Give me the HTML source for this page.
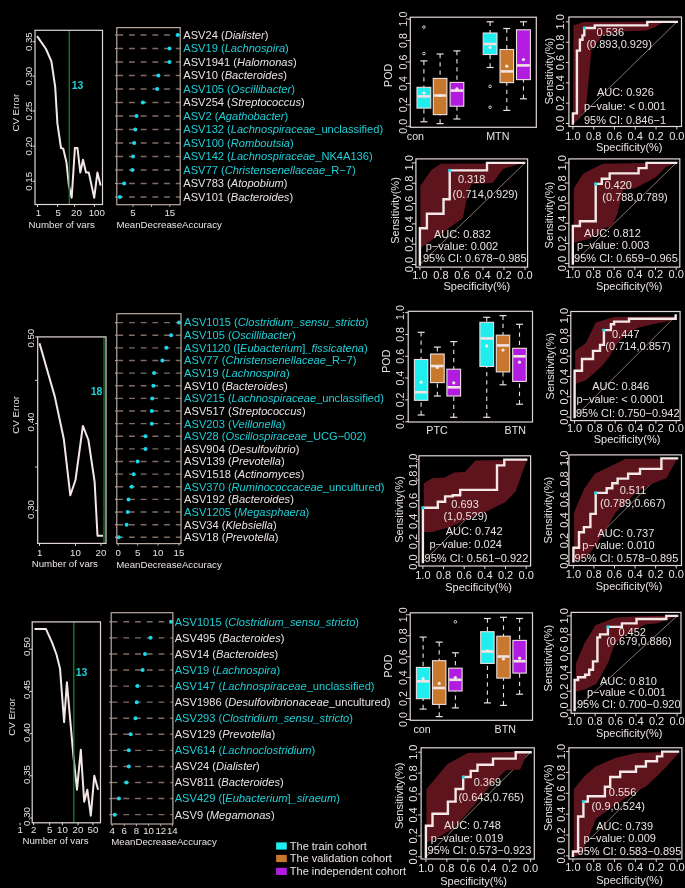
<!DOCTYPE html>
<html><head><meta charset="utf-8"><title>Figure</title>
<style>
html,body{margin:0;padding:0;background:#000;width:685px;height:888px;overflow:hidden;}
svg{display:block;font-family:"Liberation Sans",sans-serif;will-change:transform;}
</style></head>
<body>
<svg width="685" height="888" viewBox="0 0 685 888">
<rect x="0" y="0" width="685" height="888" fill="#000"/>
<line x1="572.9" y1="123.5" x2="676.8" y2="21.9" stroke="#8a7468" stroke-width="1"/>
<polygon points="573,123.5 573.5,25.3 583.8,22 677,21.5 662,23 655,27 647,30.5 620,31.5 603,35 591.5,50 586,108 575.5,122" fill="#5e141c" stroke="none" stroke-width="1"/>
<polyline points="572.9,123.5 572.9,113.4 576.9,113.4 576.9,50.6 579.9,50.6 579.9,39.8 582.5,39.8 582.5,35.4 584.3,35.4 584.3,28 594.8,28 594.8,25.4 647.3,25.4 647.3,21.9 676.8,21.9" fill="none" stroke="#f3e7e7" stroke-width="2.4" stroke-linejoin="miter" stroke-linecap="square"/>
<circle cx="584.3" cy="28" r="1.6" fill="#16d9ec"/>
<rect x="568.9" y="17" width="112.6" height="109.5" fill="none" stroke="#e2d6d6" stroke-width="1.2"/>
<line x1="568.9" y1="123.5" x2="565.9" y2="123.5" stroke="#e2d6d6" stroke-width="1"/>
<line x1="572.9" y1="126.5" x2="572.9" y2="129.5" stroke="#e2d6d6" stroke-width="1"/>
<line x1="568.9" y1="103.18" x2="565.9" y2="103.18" stroke="#e2d6d6" stroke-width="1"/>
<line x1="593.68" y1="126.5" x2="593.68" y2="129.5" stroke="#e2d6d6" stroke-width="1"/>
<line x1="568.9" y1="82.86" x2="565.9" y2="82.86" stroke="#e2d6d6" stroke-width="1"/>
<line x1="614.46" y1="126.5" x2="614.46" y2="129.5" stroke="#e2d6d6" stroke-width="1"/>
<line x1="568.9" y1="62.54" x2="565.9" y2="62.54" stroke="#e2d6d6" stroke-width="1"/>
<line x1="635.24" y1="126.5" x2="635.24" y2="129.5" stroke="#e2d6d6" stroke-width="1"/>
<line x1="568.9" y1="42.22" x2="565.9" y2="42.22" stroke="#e2d6d6" stroke-width="1"/>
<line x1="656.02" y1="126.5" x2="656.02" y2="129.5" stroke="#e2d6d6" stroke-width="1"/>
<line x1="568.9" y1="21.9" x2="565.9" y2="21.9" stroke="#e2d6d6" stroke-width="1"/>
<line x1="676.8" y1="126.5" x2="676.8" y2="129.5" stroke="#e2d6d6" stroke-width="1"/>
<text transform="translate(560.3,123.5) rotate(-90)" x="0" y="3.85" font-size="11" fill="#e9e1e1" text-anchor="middle">0.0</text>
<text transform="translate(560.3,103.18) rotate(-90)" x="0" y="3.85" font-size="11" fill="#e9e1e1" text-anchor="middle">0.2</text>
<text transform="translate(560.3,82.86) rotate(-90)" x="0" y="3.85" font-size="11" fill="#e9e1e1" text-anchor="middle">0.4</text>
<text transform="translate(560.3,62.54) rotate(-90)" x="0" y="3.85" font-size="11" fill="#e9e1e1" text-anchor="middle">0.6</text>
<text transform="translate(560.3,42.22) rotate(-90)" x="0" y="3.85" font-size="11" fill="#e9e1e1" text-anchor="middle">0.8</text>
<text transform="translate(560.3,21.9) rotate(-90)" x="0" y="3.85" font-size="11" fill="#e9e1e1" text-anchor="middle">1.0</text>
<text x="572.9" y="140.05" font-size="11" fill="#e9e1e1" text-anchor="middle">1.0</text>
<text x="593.68" y="140.05" font-size="11" fill="#e9e1e1" text-anchor="middle">0.8</text>
<text x="614.46" y="140.05" font-size="11" fill="#e9e1e1" text-anchor="middle">0.6</text>
<text x="635.24" y="140.05" font-size="11" fill="#e9e1e1" text-anchor="middle">0.4</text>
<text x="656.02" y="140.05" font-size="11" fill="#e9e1e1" text-anchor="middle">0.2</text>
<text x="676.8" y="140.05" font-size="11" fill="#e9e1e1" text-anchor="middle">0.0</text>
<text x="629.2" y="151.45" font-size="11" fill="#e9e1e1" text-anchor="middle">Specificity(%)</text>
<text transform="translate(548.8,71.2) rotate(-90)" x="0" y="3.85" font-size="11" fill="#e9e1e1" text-anchor="middle">Sensitivity(%)</text>
<text x="596.5" y="36.25" font-size="11" fill="#e9e1e1" text-anchor="start">0.536</text>
<text x="586.4" y="48.35" font-size="11" fill="#e9e1e1" text-anchor="start">(0.893,0.929)</text>
<text x="596.9" y="95.85" font-size="11" fill="#e9e1e1" text-anchor="start">AUC: 0.926</text>
<text x="583.9" y="110.25" font-size="11" fill="#e9e1e1" text-anchor="start">p−value: &lt; 0.001</text>
<text x="583.9" y="123.85" font-size="11" fill="#e9e1e1" text-anchor="start">95% CI: 0.846−1</text>
<line x1="419.9" y1="264.5" x2="525" y2="162.9" stroke="#8a7468" stroke-width="1"/>
<polygon points="420.4,247.9 420.4,185.7 431.3,169.9 440.9,163.8 509.2,163.4 524.1,162.4 503.1,169 492.6,183 471.6,183.9 468,192.7 462.8,218.1 459.3,220.7 420.8,247.9" fill="#5e141c" stroke="none" stroke-width="1"/>
<polyline points="419.9,264.5 419.9,228.2 426.9,228.2 426.9,213.7 443.5,213.7 443.5,199.3 449.7,199.3 449.7,170.4 487,170.4 487,162.9 524.1,162.9" fill="none" stroke="#f3e7e7" stroke-width="2.4" stroke-linejoin="miter" stroke-linecap="square"/>
<circle cx="449.7" cy="170.4" r="1.6" fill="#16d9ec"/>
<rect x="415.9" y="158.9" width="111.7" height="108.2" fill="none" stroke="#e2d6d6" stroke-width="1.2"/>
<line x1="415.9" y1="264.5" x2="412.9" y2="264.5" stroke="#e2d6d6" stroke-width="1"/>
<line x1="419.9" y1="267.1" x2="419.9" y2="270.1" stroke="#e2d6d6" stroke-width="1"/>
<line x1="415.9" y1="244.18" x2="412.9" y2="244.18" stroke="#e2d6d6" stroke-width="1"/>
<line x1="440.92" y1="267.1" x2="440.92" y2="270.1" stroke="#e2d6d6" stroke-width="1"/>
<line x1="415.9" y1="223.86" x2="412.9" y2="223.86" stroke="#e2d6d6" stroke-width="1"/>
<line x1="461.94" y1="267.1" x2="461.94" y2="270.1" stroke="#e2d6d6" stroke-width="1"/>
<line x1="415.9" y1="203.54" x2="412.9" y2="203.54" stroke="#e2d6d6" stroke-width="1"/>
<line x1="482.96" y1="267.1" x2="482.96" y2="270.1" stroke="#e2d6d6" stroke-width="1"/>
<line x1="415.9" y1="183.22" x2="412.9" y2="183.22" stroke="#e2d6d6" stroke-width="1"/>
<line x1="503.98" y1="267.1" x2="503.98" y2="270.1" stroke="#e2d6d6" stroke-width="1"/>
<line x1="415.9" y1="162.9" x2="412.9" y2="162.9" stroke="#e2d6d6" stroke-width="1"/>
<line x1="525" y1="267.1" x2="525" y2="270.1" stroke="#e2d6d6" stroke-width="1"/>
<text transform="translate(409,264.5) rotate(-90)" x="0" y="3.85" font-size="11" fill="#e9e1e1" text-anchor="middle">0.0</text>
<text transform="translate(409,244.18) rotate(-90)" x="0" y="3.85" font-size="11" fill="#e9e1e1" text-anchor="middle">0.2</text>
<text transform="translate(409,223.86) rotate(-90)" x="0" y="3.85" font-size="11" fill="#e9e1e1" text-anchor="middle">0.4</text>
<text transform="translate(409,203.54) rotate(-90)" x="0" y="3.85" font-size="11" fill="#e9e1e1" text-anchor="middle">0.6</text>
<text transform="translate(409,183.22) rotate(-90)" x="0" y="3.85" font-size="11" fill="#e9e1e1" text-anchor="middle">0.8</text>
<text transform="translate(409,162.9) rotate(-90)" x="0" y="3.85" font-size="11" fill="#e9e1e1" text-anchor="middle">1.0</text>
<text x="419.9" y="278.55" font-size="11" fill="#e9e1e1" text-anchor="middle">1.0</text>
<text x="440.92" y="278.55" font-size="11" fill="#e9e1e1" text-anchor="middle">0.8</text>
<text x="461.94" y="278.55" font-size="11" fill="#e9e1e1" text-anchor="middle">0.6</text>
<text x="482.96" y="278.55" font-size="11" fill="#e9e1e1" text-anchor="middle">0.4</text>
<text x="503.98" y="278.55" font-size="11" fill="#e9e1e1" text-anchor="middle">0.2</text>
<text x="525" y="278.55" font-size="11" fill="#e9e1e1" text-anchor="middle">0.0</text>
<text x="476.8" y="289.65" font-size="11" fill="#e9e1e1" text-anchor="middle">Specificity(%)</text>
<text transform="translate(395.2,210.5) rotate(-90)" x="0" y="3.85" font-size="11" fill="#e9e1e1" text-anchor="middle">Sensitivity(%)</text>
<text x="457.9" y="183.35" font-size="11" fill="#e9e1e1" text-anchor="start">0.318</text>
<text x="452.6" y="198.25" font-size="11" fill="#e9e1e1" text-anchor="start">(0.714,0.929)</text>
<text x="433.9" y="237.65" font-size="11" fill="#e9e1e1" text-anchor="start">AUC: 0.832</text>
<text x="425.7" y="250.35" font-size="11" fill="#e9e1e1" text-anchor="start">p−value: 0.002</text>
<text x="422.9" y="262.25" font-size="11" fill="#e9e1e1" text-anchor="start">95% CI: 0.678−0.985</text>
<line x1="572.8" y1="263.6" x2="676.2" y2="162.9" stroke="#8a7468" stroke-width="1"/>
<polygon points="573.8,242.6 573.8,188.3 583.4,173.4 602.7,163.8 647.3,162.9 677.1,162.4 665.7,167.3 655.2,177.8 635.1,188.3 623,190 617.6,213 612.6,225.8 604.3,227.9 589.5,239.1 573.8,242.6" fill="#5e141c" stroke="none" stroke-width="1"/>
<polyline points="572.8,263.6 572.8,226 579.9,226 579.9,221.2 595.7,221.2 595.7,183.9 601.8,183.9 601.8,178.7 609.7,178.7 609.7,173.4 638.6,173.4 638.6,168.1 646.5,168.1 646.5,162.9 676.2,162.9" fill="none" stroke="#f3e7e7" stroke-width="2.4" stroke-linejoin="miter" stroke-linecap="square"/>
<circle cx="595.7" cy="183.9" r="1.6" fill="#16d9ec"/>
<rect x="568.9" y="158.9" width="110.9" height="108.2" fill="none" stroke="#e2d6d6" stroke-width="1.2"/>
<line x1="568.9" y1="263.6" x2="565.9" y2="263.6" stroke="#e2d6d6" stroke-width="1"/>
<line x1="572.8" y1="267.1" x2="572.8" y2="270.1" stroke="#e2d6d6" stroke-width="1"/>
<line x1="568.9" y1="243.46" x2="565.9" y2="243.46" stroke="#e2d6d6" stroke-width="1"/>
<line x1="593.48" y1="267.1" x2="593.48" y2="270.1" stroke="#e2d6d6" stroke-width="1"/>
<line x1="568.9" y1="223.32" x2="565.9" y2="223.32" stroke="#e2d6d6" stroke-width="1"/>
<line x1="614.16" y1="267.1" x2="614.16" y2="270.1" stroke="#e2d6d6" stroke-width="1"/>
<line x1="568.9" y1="203.18" x2="565.9" y2="203.18" stroke="#e2d6d6" stroke-width="1"/>
<line x1="634.84" y1="267.1" x2="634.84" y2="270.1" stroke="#e2d6d6" stroke-width="1"/>
<line x1="568.9" y1="183.04" x2="565.9" y2="183.04" stroke="#e2d6d6" stroke-width="1"/>
<line x1="655.52" y1="267.1" x2="655.52" y2="270.1" stroke="#e2d6d6" stroke-width="1"/>
<line x1="568.9" y1="162.9" x2="565.9" y2="162.9" stroke="#e2d6d6" stroke-width="1"/>
<line x1="676.2" y1="267.1" x2="676.2" y2="270.1" stroke="#e2d6d6" stroke-width="1"/>
<text transform="translate(562.3,263.6) rotate(-90)" x="0" y="3.85" font-size="11" fill="#e9e1e1" text-anchor="middle">0.0</text>
<text transform="translate(562.3,243.46) rotate(-90)" x="0" y="3.85" font-size="11" fill="#e9e1e1" text-anchor="middle">0.2</text>
<text transform="translate(562.3,223.32) rotate(-90)" x="0" y="3.85" font-size="11" fill="#e9e1e1" text-anchor="middle">0.4</text>
<text transform="translate(562.3,203.18) rotate(-90)" x="0" y="3.85" font-size="11" fill="#e9e1e1" text-anchor="middle">0.6</text>
<text transform="translate(562.3,183.04) rotate(-90)" x="0" y="3.85" font-size="11" fill="#e9e1e1" text-anchor="middle">0.8</text>
<text transform="translate(562.3,162.9) rotate(-90)" x="0" y="3.85" font-size="11" fill="#e9e1e1" text-anchor="middle">1.0</text>
<text x="572.8" y="277.65" font-size="11" fill="#e9e1e1" text-anchor="middle">1.0</text>
<text x="593.48" y="277.65" font-size="11" fill="#e9e1e1" text-anchor="middle">0.8</text>
<text x="614.16" y="277.65" font-size="11" fill="#e9e1e1" text-anchor="middle">0.6</text>
<text x="634.84" y="277.65" font-size="11" fill="#e9e1e1" text-anchor="middle">0.4</text>
<text x="655.52" y="277.65" font-size="11" fill="#e9e1e1" text-anchor="middle">0.2</text>
<text x="676.2" y="277.65" font-size="11" fill="#e9e1e1" text-anchor="middle">0.0</text>
<text x="629.2" y="290.35" font-size="11" fill="#e9e1e1" text-anchor="middle">Specificity(%)</text>
<text transform="translate(549.1,215.1) rotate(-90)" x="0" y="3.85" font-size="11" fill="#e9e1e1" text-anchor="middle">Sensitivity(%)</text>
<text x="604.4" y="188.95" font-size="11" fill="#e9e1e1" text-anchor="start">0.420</text>
<text x="602.3" y="200.85" font-size="11" fill="#e9e1e1" text-anchor="start">(0.788,0.789)</text>
<text x="583.9" y="236.85" font-size="11" fill="#e9e1e1" text-anchor="start">AUC: 0.812</text>
<text x="576.9" y="249.05" font-size="11" fill="#e9e1e1" text-anchor="start">p−value: 0.003</text>
<text x="574.1" y="262.25" font-size="11" fill="#e9e1e1" text-anchor="start">95% CI: 0.659−0.965</text>
<line x1="574.6" y1="417.1" x2="676.2" y2="315.5" stroke="#8a7468" stroke-width="1"/>
<polygon points="575.2,384.7 575.2,350.9 586,342.7 595.7,322.5 614.1,316.9 675.4,316.4 670.1,320.8 652.6,324.3 638.6,327.8 628.1,332.2 617.6,342.7 608.8,357.6 601.8,366.3 586,380.3 575.5,383.8" fill="#5e141c" stroke="none" stroke-width="1"/>
<polyline points="574.6,417.1 574.6,370.7 582,370.7 582,359 593,359 593,350.9 600,350.9 600,344.9 603.9,344.9 603.9,330.1 610.9,330.1 610.9,324.3 614.1,324.3 614.1,321.6 629,321.6 629,318.7 675.7,318.7 675.7,315.5" fill="none" stroke="#f3e7e7" stroke-width="2.4" stroke-linejoin="miter" stroke-linecap="square"/>
<circle cx="603.9" cy="330.1" r="1.6" fill="#16d9ec"/>
<rect x="570.8" y="311.5" width="109.3" height="109.1" fill="none" stroke="#e2d6d6" stroke-width="1.2"/>
<line x1="570.8" y1="417.1" x2="567.8" y2="417.1" stroke="#e2d6d6" stroke-width="1"/>
<line x1="574.6" y1="420.6" x2="574.6" y2="423.6" stroke="#e2d6d6" stroke-width="1"/>
<line x1="570.8" y1="396.78" x2="567.8" y2="396.78" stroke="#e2d6d6" stroke-width="1"/>
<line x1="594.92" y1="420.6" x2="594.92" y2="423.6" stroke="#e2d6d6" stroke-width="1"/>
<line x1="570.8" y1="376.46" x2="567.8" y2="376.46" stroke="#e2d6d6" stroke-width="1"/>
<line x1="615.24" y1="420.6" x2="615.24" y2="423.6" stroke="#e2d6d6" stroke-width="1"/>
<line x1="570.8" y1="356.14" x2="567.8" y2="356.14" stroke="#e2d6d6" stroke-width="1"/>
<line x1="635.56" y1="420.6" x2="635.56" y2="423.6" stroke="#e2d6d6" stroke-width="1"/>
<line x1="570.8" y1="335.82" x2="567.8" y2="335.82" stroke="#e2d6d6" stroke-width="1"/>
<line x1="655.88" y1="420.6" x2="655.88" y2="423.6" stroke="#e2d6d6" stroke-width="1"/>
<line x1="570.8" y1="315.5" x2="567.8" y2="315.5" stroke="#e2d6d6" stroke-width="1"/>
<line x1="676.2" y1="420.6" x2="676.2" y2="423.6" stroke="#e2d6d6" stroke-width="1"/>
<text transform="translate(564.3,417.1) rotate(-90)" x="0" y="3.85" font-size="11" fill="#e9e1e1" text-anchor="middle">0.0</text>
<text transform="translate(564.3,396.78) rotate(-90)" x="0" y="3.85" font-size="11" fill="#e9e1e1" text-anchor="middle">0.2</text>
<text transform="translate(564.3,376.46) rotate(-90)" x="0" y="3.85" font-size="11" fill="#e9e1e1" text-anchor="middle">0.4</text>
<text transform="translate(564.3,356.14) rotate(-90)" x="0" y="3.85" font-size="11" fill="#e9e1e1" text-anchor="middle">0.6</text>
<text transform="translate(564.3,335.82) rotate(-90)" x="0" y="3.85" font-size="11" fill="#e9e1e1" text-anchor="middle">0.8</text>
<text transform="translate(564.3,315.5) rotate(-90)" x="0" y="3.85" font-size="11" fill="#e9e1e1" text-anchor="middle">1.0</text>
<text x="574.6" y="431.95" font-size="11" fill="#e9e1e1" text-anchor="middle">1.0</text>
<text x="594.92" y="431.95" font-size="11" fill="#e9e1e1" text-anchor="middle">0.8</text>
<text x="615.24" y="431.95" font-size="11" fill="#e9e1e1" text-anchor="middle">0.6</text>
<text x="635.56" y="431.95" font-size="11" fill="#e9e1e1" text-anchor="middle">0.4</text>
<text x="655.88" y="431.95" font-size="11" fill="#e9e1e1" text-anchor="middle">0.2</text>
<text x="676.2" y="431.95" font-size="11" fill="#e9e1e1" text-anchor="middle">0.0</text>
<text x="627.1" y="442.55" font-size="11" fill="#e9e1e1" text-anchor="middle">Specificity(%)</text>
<text transform="translate(550.6,366.1) rotate(-90)" x="0" y="3.85" font-size="11" fill="#e9e1e1" text-anchor="middle">Sensitivity(%)</text>
<text x="612" y="337.75" font-size="11" fill="#e9e1e1" text-anchor="start">0.447</text>
<text x="605.3" y="350.35" font-size="11" fill="#e9e1e1" text-anchor="start">(0.714,0.857)</text>
<text x="592.2" y="390.35" font-size="11" fill="#e9e1e1" text-anchor="start">AUC: 0.846</text>
<text x="576.4" y="403.45" font-size="11" fill="#e9e1e1" text-anchor="start">p−value: &lt; 0.0001</text>
<text x="575.9" y="416.55" font-size="11" fill="#e9e1e1" text-anchor="start">95% CI: 0.750−0.942</text>
<line x1="422.9" y1="562.1" x2="526.2" y2="459.6" stroke="#8a7468" stroke-width="1"/>
<polygon points="423.8,532 423.8,483.3 432.5,478 443.9,477.7 454.4,472.4 464.9,471.9 475.4,460.5 527.1,459.6 515.7,491.2 505.2,502.2 488.6,510.4 474.6,515.7 465.8,520.1 450,527.1 432.5,532" fill="#5e141c" stroke="none" stroke-width="1"/>
<polyline points="422.9,562.1 422.9,507.8 437.8,507.8 437.8,501.7 445.1,501.7 445.1,496.4 452.7,496.4 452.7,495.2 460.2,495.2 460.2,489.9 497,489.9 497,465.4 504.3,465.4 504.3,459.6 526.2,459.6" fill="none" stroke="#f3e7e7" stroke-width="2.4" stroke-linejoin="miter" stroke-linecap="square"/>
<circle cx="422.9" cy="507.8" r="1.6" fill="#16d9ec"/>
<rect x="418.9" y="455.8" width="111.7" height="110.2" fill="none" stroke="#e2d6d6" stroke-width="1.2"/>
<line x1="418.9" y1="562.1" x2="415.9" y2="562.1" stroke="#e2d6d6" stroke-width="1"/>
<line x1="422.9" y1="566" x2="422.9" y2="569" stroke="#e2d6d6" stroke-width="1"/>
<line x1="418.9" y1="541.6" x2="415.9" y2="541.6" stroke="#e2d6d6" stroke-width="1"/>
<line x1="443.56" y1="566" x2="443.56" y2="569" stroke="#e2d6d6" stroke-width="1"/>
<line x1="418.9" y1="521.1" x2="415.9" y2="521.1" stroke="#e2d6d6" stroke-width="1"/>
<line x1="464.22" y1="566" x2="464.22" y2="569" stroke="#e2d6d6" stroke-width="1"/>
<line x1="418.9" y1="500.6" x2="415.9" y2="500.6" stroke="#e2d6d6" stroke-width="1"/>
<line x1="484.88" y1="566" x2="484.88" y2="569" stroke="#e2d6d6" stroke-width="1"/>
<line x1="418.9" y1="480.1" x2="415.9" y2="480.1" stroke="#e2d6d6" stroke-width="1"/>
<line x1="505.54" y1="566" x2="505.54" y2="569" stroke="#e2d6d6" stroke-width="1"/>
<line x1="418.9" y1="459.6" x2="415.9" y2="459.6" stroke="#e2d6d6" stroke-width="1"/>
<line x1="526.2" y1="566" x2="526.2" y2="569" stroke="#e2d6d6" stroke-width="1"/>
<text transform="translate(413.1,562.1) rotate(-90)" x="0" y="3.85" font-size="11" fill="#e9e1e1" text-anchor="middle">0.0</text>
<text transform="translate(413.1,541.5) rotate(-90)" x="0" y="3.85" font-size="11" fill="#e9e1e1" text-anchor="middle">0.2</text>
<text transform="translate(413.1,521.3) rotate(-90)" x="0" y="3.85" font-size="11" fill="#e9e1e1" text-anchor="middle">0.4</text>
<text transform="translate(413.1,500.6) rotate(-90)" x="0" y="3.85" font-size="11" fill="#e9e1e1" text-anchor="middle">0.6</text>
<text transform="translate(413.1,478.2) rotate(-90)" x="0" y="3.85" font-size="11" fill="#e9e1e1" text-anchor="middle">0.8</text>
<text transform="translate(413.1,461.4) rotate(-90)" x="0" y="3.85" font-size="11" fill="#e9e1e1" text-anchor="middle">1.0</text>
<text x="422.9" y="578.85" font-size="11" fill="#e9e1e1" text-anchor="middle">1.0</text>
<text x="443.56" y="578.85" font-size="11" fill="#e9e1e1" text-anchor="middle">0.8</text>
<text x="464.22" y="578.85" font-size="11" fill="#e9e1e1" text-anchor="middle">0.6</text>
<text x="484.88" y="578.85" font-size="11" fill="#e9e1e1" text-anchor="middle">0.4</text>
<text x="505.54" y="578.85" font-size="11" fill="#e9e1e1" text-anchor="middle">0.2</text>
<text x="526.2" y="578.85" font-size="11" fill="#e9e1e1" text-anchor="middle">0.0</text>
<text x="478.6" y="591.05" font-size="11" fill="#e9e1e1" text-anchor="middle">Specificity(%)</text>
<text transform="translate(399,509.5) rotate(-90)" x="0" y="3.85" font-size="11" fill="#e9e1e1" text-anchor="middle">Sensitivity(%)</text>
<text x="451.3" y="507.85" font-size="11" fill="#e9e1e1" text-anchor="start">0.693</text>
<text x="443.4" y="519.55" font-size="11" fill="#e9e1e1" text-anchor="start">(1,0.529)</text>
<text x="445.7" y="535.35" font-size="11" fill="#e9e1e1" text-anchor="start">AUC: 0.742</text>
<text x="429.4" y="548.45" font-size="11" fill="#e9e1e1" text-anchor="start">p−value: 0.024</text>
<text x="424.6" y="561.55" font-size="11" fill="#e9e1e1" text-anchor="start">95% CI: 0.561−0.922</text>
<line x1="573.4" y1="561.2" x2="676.2" y2="458.4" stroke="#8a7468" stroke-width="1"/>
<polygon points="574.1,562.1 574.1,512.2 584.3,488.5 594.8,473.7 625.4,459.1 677.1,458.8 666.6,478 649.1,485 635.1,493.8 615.8,512.2 605.3,530.6 596.5,544.6 586,556.9" fill="#5e141c" stroke="none" stroke-width="1"/>
<polyline points="573.4,561.2 573.4,547.8 579,547.8 579,532.3 583.9,532.3 583.9,527.1 590.4,527.1 590.4,513.9 595.7,513.9 595.7,492.9 606.7,492.9 606.7,488.2 612.3,488.2 612.3,483.3 617.6,483.3 617.6,478.6 628.1,478.6 628.1,473.7 640,473.7 640,468.9 661.4,468.9 661.4,458.4 677.1,458.4" fill="none" stroke="#f3e7e7" stroke-width="2.4" stroke-linejoin="miter" stroke-linecap="square"/>
<circle cx="595.7" cy="492.9" r="1.6" fill="#16d9ec"/>
<rect x="568.9" y="454.9" width="112.6" height="110.6" fill="none" stroke="#e2d6d6" stroke-width="1.2"/>
<line x1="568.9" y1="561.2" x2="565.9" y2="561.2" stroke="#e2d6d6" stroke-width="1"/>
<line x1="573.4" y1="565.5" x2="573.4" y2="568.5" stroke="#e2d6d6" stroke-width="1"/>
<line x1="568.9" y1="540.64" x2="565.9" y2="540.64" stroke="#e2d6d6" stroke-width="1"/>
<line x1="593.96" y1="565.5" x2="593.96" y2="568.5" stroke="#e2d6d6" stroke-width="1"/>
<line x1="568.9" y1="520.08" x2="565.9" y2="520.08" stroke="#e2d6d6" stroke-width="1"/>
<line x1="614.52" y1="565.5" x2="614.52" y2="568.5" stroke="#e2d6d6" stroke-width="1"/>
<line x1="568.9" y1="499.52" x2="565.9" y2="499.52" stroke="#e2d6d6" stroke-width="1"/>
<line x1="635.08" y1="565.5" x2="635.08" y2="568.5" stroke="#e2d6d6" stroke-width="1"/>
<line x1="568.9" y1="478.96" x2="565.9" y2="478.96" stroke="#e2d6d6" stroke-width="1"/>
<line x1="655.64" y1="565.5" x2="655.64" y2="568.5" stroke="#e2d6d6" stroke-width="1"/>
<line x1="568.9" y1="458.4" x2="565.9" y2="458.4" stroke="#e2d6d6" stroke-width="1"/>
<line x1="676.2" y1="565.5" x2="676.2" y2="568.5" stroke="#e2d6d6" stroke-width="1"/>
<text transform="translate(563.7,561.2) rotate(-90)" x="0" y="3.85" font-size="11" fill="#e9e1e1" text-anchor="middle">0.0</text>
<text transform="translate(563.7,540.64) rotate(-90)" x="0" y="3.85" font-size="11" fill="#e9e1e1" text-anchor="middle">0.2</text>
<text transform="translate(563.7,520.08) rotate(-90)" x="0" y="3.85" font-size="11" fill="#e9e1e1" text-anchor="middle">0.4</text>
<text transform="translate(563.7,499.52) rotate(-90)" x="0" y="3.85" font-size="11" fill="#e9e1e1" text-anchor="middle">0.6</text>
<text transform="translate(563.7,478.96) rotate(-90)" x="0" y="3.85" font-size="11" fill="#e9e1e1" text-anchor="middle">0.8</text>
<text transform="translate(563.7,458.4) rotate(-90)" x="0" y="3.85" font-size="11" fill="#e9e1e1" text-anchor="middle">1.0</text>
<text x="573.4" y="577.95" font-size="11" fill="#e9e1e1" text-anchor="middle">1.0</text>
<text x="593.96" y="577.95" font-size="11" fill="#e9e1e1" text-anchor="middle">0.8</text>
<text x="614.52" y="577.95" font-size="11" fill="#e9e1e1" text-anchor="middle">0.6</text>
<text x="635.08" y="577.95" font-size="11" fill="#e9e1e1" text-anchor="middle">0.4</text>
<text x="655.64" y="577.95" font-size="11" fill="#e9e1e1" text-anchor="middle">0.2</text>
<text x="676.2" y="577.95" font-size="11" fill="#e9e1e1" text-anchor="middle">0.0</text>
<text x="629" y="590.25" font-size="11" fill="#e9e1e1" text-anchor="middle">Specificity(%)</text>
<text transform="translate(548,510.1) rotate(-90)" x="0" y="3.85" font-size="11" fill="#e9e1e1" text-anchor="middle">Sensitivity(%)</text>
<text x="619.7" y="494.45" font-size="11" fill="#e9e1e1" text-anchor="start">0.511</text>
<text x="600" y="507.25" font-size="11" fill="#e9e1e1" text-anchor="start">(0.789,0.667)</text>
<text x="597.4" y="536.75" font-size="11" fill="#e9e1e1" text-anchor="start">AUC: 0.737</text>
<text x="582.2" y="548.95" font-size="11" fill="#e9e1e1" text-anchor="start">p−value: 0.010</text>
<text x="574.6" y="562.45" font-size="11" fill="#e9e1e1" text-anchor="start">95% CI: 0.578−0.895</text>
<line x1="574.6" y1="710.1" x2="677.1" y2="615.9" stroke="#8a7468" stroke-width="1"/>
<polygon points="575.9,691.7 575.9,663.7 584.3,643.5 595.7,625.1 615.8,617.6 635.1,616.4 677.1,615.5 670.1,618.7 656.1,623.4 645.6,624.3 636,629.5 622.8,636.5 614.1,645.3 608.8,661.1 605.3,668.1 596.5,683.8 586,689.1" fill="#5e141c" stroke="none" stroke-width="1"/>
<polyline points="574.6,710.1 574.6,680 578.1,680 578.1,677.2 585.1,677.2 585.1,674.7 589.2,674.7 589.2,669.8 593,669.8 593,661.4 597.4,661.4 597.4,637.4 600,637.4 600,634.4 607.9,634.4 607.9,626.9 621.9,626.9 621.9,623.4 636.5,623.4 636.5,619 666.3,619 666.3,615.9 677.1,615.9" fill="none" stroke="#f3e7e7" stroke-width="2.4" stroke-linejoin="miter" stroke-linecap="square"/>
<circle cx="607.9" cy="626.9" r="1.6" fill="#16d9ec"/>
<rect x="571.1" y="612.4" width="109.9" height="100.9" fill="none" stroke="#e2d6d6" stroke-width="1.2"/>
<line x1="571.1" y1="710.1" x2="568.1" y2="710.1" stroke="#e2d6d6" stroke-width="1"/>
<line x1="574.6" y1="713.3" x2="574.6" y2="716.3" stroke="#e2d6d6" stroke-width="1"/>
<line x1="571.1" y1="691.26" x2="568.1" y2="691.26" stroke="#e2d6d6" stroke-width="1"/>
<line x1="595.1" y1="713.3" x2="595.1" y2="716.3" stroke="#e2d6d6" stroke-width="1"/>
<line x1="571.1" y1="672.42" x2="568.1" y2="672.42" stroke="#e2d6d6" stroke-width="1"/>
<line x1="615.6" y1="713.3" x2="615.6" y2="716.3" stroke="#e2d6d6" stroke-width="1"/>
<line x1="571.1" y1="653.58" x2="568.1" y2="653.58" stroke="#e2d6d6" stroke-width="1"/>
<line x1="636.1" y1="713.3" x2="636.1" y2="716.3" stroke="#e2d6d6" stroke-width="1"/>
<line x1="571.1" y1="634.74" x2="568.1" y2="634.74" stroke="#e2d6d6" stroke-width="1"/>
<line x1="656.6" y1="713.3" x2="656.6" y2="716.3" stroke="#e2d6d6" stroke-width="1"/>
<line x1="571.1" y1="615.9" x2="568.1" y2="615.9" stroke="#e2d6d6" stroke-width="1"/>
<line x1="677.1" y1="713.3" x2="677.1" y2="716.3" stroke="#e2d6d6" stroke-width="1"/>
<text transform="translate(563.7,710.1) rotate(-90)" x="0" y="3.85" font-size="11" fill="#e9e1e1" text-anchor="middle">0.0</text>
<text transform="translate(563.7,691.26) rotate(-90)" x="0" y="3.85" font-size="11" fill="#e9e1e1" text-anchor="middle">0.2</text>
<text transform="translate(563.7,672.42) rotate(-90)" x="0" y="3.85" font-size="11" fill="#e9e1e1" text-anchor="middle">0.4</text>
<text transform="translate(563.7,653.58) rotate(-90)" x="0" y="3.85" font-size="11" fill="#e9e1e1" text-anchor="middle">0.6</text>
<text transform="translate(563.7,634.74) rotate(-90)" x="0" y="3.85" font-size="11" fill="#e9e1e1" text-anchor="middle">0.8</text>
<text transform="translate(563.7,615.9) rotate(-90)" x="0" y="3.85" font-size="11" fill="#e9e1e1" text-anchor="middle">1.0</text>
<text x="574.6" y="724.55" font-size="11" fill="#e9e1e1" text-anchor="middle">1.0</text>
<text x="595.1" y="724.55" font-size="11" fill="#e9e1e1" text-anchor="middle">0.8</text>
<text x="615.6" y="724.55" font-size="11" fill="#e9e1e1" text-anchor="middle">0.6</text>
<text x="636.1" y="724.55" font-size="11" fill="#e9e1e1" text-anchor="middle">0.4</text>
<text x="656.6" y="724.55" font-size="11" fill="#e9e1e1" text-anchor="middle">0.2</text>
<text x="677.1" y="724.55" font-size="11" fill="#e9e1e1" text-anchor="middle">0.0</text>
<text x="629.2" y="736.75" font-size="11" fill="#e9e1e1" text-anchor="middle">Specificity(%)</text>
<text transform="translate(548,658.2) rotate(-90)" x="0" y="3.85" font-size="11" fill="#e9e1e1" text-anchor="middle">Sensitivity(%)</text>
<text x="618.4" y="636.05" font-size="11" fill="#e9e1e1" text-anchor="start">0.452</text>
<text x="606.2" y="645.25" font-size="11" fill="#e9e1e1" text-anchor="start">(0.679,0.886)</text>
<text x="600" y="684.55" font-size="11" fill="#e9e1e1" text-anchor="start">AUC: 0.810</text>
<text x="586.9" y="696.45" font-size="11" fill="#e9e1e1" text-anchor="start">p−value &lt; 0.001</text>
<text x="576.9" y="708.35" font-size="11" fill="#e9e1e1" text-anchor="start">95% CI: 0.700−0.920</text>
<line x1="425.9" y1="856.8" x2="530.6" y2="752.2" stroke="#8a7468" stroke-width="1"/>
<polygon points="426.4,842.7 426.4,789.3 447.4,763.9 467.6,752.9 530.6,751.6 527.1,753.4 520.1,769.7 506.1,770 490.3,785.8 476.3,802.4 465.8,814.7 451.8,829.6 439.5,836.6" fill="#5e141c" stroke="none" stroke-width="1"/>
<polyline points="425.9,856.8 425.9,825.7 432.5,825.7 432.5,813.8 447.9,813.8 447.9,801.6 455.6,801.6 455.6,789 463.2,789 463.2,777 470.7,777 470.7,770.9 477.5,770.9 477.5,764.8 493,764.8 493,758.6 515.7,758.6 515.7,752.2 530.6,752.2" fill="none" stroke="#f3e7e7" stroke-width="2.4" stroke-linejoin="miter" stroke-linecap="square"/>
<circle cx="463.2" cy="777" r="1.6" fill="#16d9ec"/>
<rect x="421.1" y="747.8" width="113.2" height="111.2" fill="none" stroke="#e2d6d6" stroke-width="1.2"/>
<line x1="421.1" y1="856.8" x2="418.1" y2="856.8" stroke="#e2d6d6" stroke-width="1"/>
<line x1="425.9" y1="859" x2="425.9" y2="862" stroke="#e2d6d6" stroke-width="1"/>
<line x1="421.1" y1="835.88" x2="418.1" y2="835.88" stroke="#e2d6d6" stroke-width="1"/>
<line x1="446.84" y1="859" x2="446.84" y2="862" stroke="#e2d6d6" stroke-width="1"/>
<line x1="421.1" y1="814.96" x2="418.1" y2="814.96" stroke="#e2d6d6" stroke-width="1"/>
<line x1="467.78" y1="859" x2="467.78" y2="862" stroke="#e2d6d6" stroke-width="1"/>
<line x1="421.1" y1="794.04" x2="418.1" y2="794.04" stroke="#e2d6d6" stroke-width="1"/>
<line x1="488.72" y1="859" x2="488.72" y2="862" stroke="#e2d6d6" stroke-width="1"/>
<line x1="421.1" y1="773.12" x2="418.1" y2="773.12" stroke="#e2d6d6" stroke-width="1"/>
<line x1="509.66" y1="859" x2="509.66" y2="862" stroke="#e2d6d6" stroke-width="1"/>
<line x1="421.1" y1="752.2" x2="418.1" y2="752.2" stroke="#e2d6d6" stroke-width="1"/>
<line x1="530.6" y1="859" x2="530.6" y2="862" stroke="#e2d6d6" stroke-width="1"/>
<text transform="translate(412.8,856.8) rotate(-90)" x="0" y="3.85" font-size="11" fill="#e9e1e1" text-anchor="middle">0.0</text>
<text transform="translate(412.8,835.88) rotate(-90)" x="0" y="3.85" font-size="11" fill="#e9e1e1" text-anchor="middle">0.2</text>
<text transform="translate(412.8,814.96) rotate(-90)" x="0" y="3.85" font-size="11" fill="#e9e1e1" text-anchor="middle">0.4</text>
<text transform="translate(412.8,794.04) rotate(-90)" x="0" y="3.85" font-size="11" fill="#e9e1e1" text-anchor="middle">0.6</text>
<text transform="translate(412.8,773.12) rotate(-90)" x="0" y="3.85" font-size="11" fill="#e9e1e1" text-anchor="middle">0.8</text>
<text transform="translate(412.8,752.2) rotate(-90)" x="0" y="3.85" font-size="11" fill="#e9e1e1" text-anchor="middle">1.0</text>
<text x="425.9" y="871.85" font-size="11" fill="#e9e1e1" text-anchor="middle">1.0</text>
<text x="446.84" y="871.85" font-size="11" fill="#e9e1e1" text-anchor="middle">0.8</text>
<text x="467.78" y="871.85" font-size="11" fill="#e9e1e1" text-anchor="middle">0.6</text>
<text x="488.72" y="871.85" font-size="11" fill="#e9e1e1" text-anchor="middle">0.4</text>
<text x="509.66" y="871.85" font-size="11" fill="#e9e1e1" text-anchor="middle">0.2</text>
<text x="530.6" y="871.85" font-size="11" fill="#e9e1e1" text-anchor="middle">0.0</text>
<text x="473.6" y="884.75" font-size="11" fill="#e9e1e1" text-anchor="middle">Specificity(%)</text>
<text transform="translate(399.2,795.8) rotate(-90)" x="0" y="3.85" font-size="11" fill="#e9e1e1" text-anchor="middle">Sensitivity(%)</text>
<text x="473.7" y="785.85" font-size="11" fill="#e9e1e1" text-anchor="start">0.369</text>
<text x="458.4" y="801.05" font-size="11" fill="#e9e1e1" text-anchor="start">(0.643,0.765)</text>
<text x="443.9" y="828.55" font-size="11" fill="#e9e1e1" text-anchor="start">AUC: 0.748</text>
<text x="430.8" y="841.85" font-size="11" fill="#e9e1e1" text-anchor="start">p−value: 0.019</text>
<text x="427.6" y="854.45" font-size="11" fill="#e9e1e1" text-anchor="start">95% CI: 0.573−0.923</text>
<line x1="572.9" y1="855.9" x2="677.1" y2="751.6" stroke="#8a7468" stroke-width="1"/>
<polygon points="573.8,856.8 573.8,789.3 584.3,776.2 595.7,766.5 615.8,757.8 636,752.9 679.8,751.6 666.6,766.5 656.1,777 645.6,786.7 633.3,792.8 617.6,803.3 595.7,819.1 587.8,840.1 580.8,854.1" fill="#5e141c" stroke="none" stroke-width="1"/>
<polyline points="572.9,855.9 572.9,851.5 578.1,851.5 578.1,816.5 583.4,816.5 583.4,801.6 587.8,801.6 587.8,796.3 604.9,796.3 604.9,786.7 610.2,786.7 610.2,777 620.2,777 620.2,771.8 636,771.8 636,766.5 645.9,766.5 645.9,761.3 657,761.3 657,756.4 662.2,756.4 662.2,751.6 678,751.6" fill="none" stroke="#f3e7e7" stroke-width="2.4" stroke-linejoin="miter" stroke-linecap="square"/>
<circle cx="583.4" cy="801.6" r="1.6" fill="#16d9ec"/>
<rect x="568.9" y="747.8" width="113" height="111.2" fill="none" stroke="#e2d6d6" stroke-width="1.2"/>
<line x1="568.9" y1="855.9" x2="565.9" y2="855.9" stroke="#e2d6d6" stroke-width="1"/>
<line x1="572.9" y1="859" x2="572.9" y2="862" stroke="#e2d6d6" stroke-width="1"/>
<line x1="568.9" y1="835.04" x2="565.9" y2="835.04" stroke="#e2d6d6" stroke-width="1"/>
<line x1="593.74" y1="859" x2="593.74" y2="862" stroke="#e2d6d6" stroke-width="1"/>
<line x1="568.9" y1="814.18" x2="565.9" y2="814.18" stroke="#e2d6d6" stroke-width="1"/>
<line x1="614.58" y1="859" x2="614.58" y2="862" stroke="#e2d6d6" stroke-width="1"/>
<line x1="568.9" y1="793.32" x2="565.9" y2="793.32" stroke="#e2d6d6" stroke-width="1"/>
<line x1="635.42" y1="859" x2="635.42" y2="862" stroke="#e2d6d6" stroke-width="1"/>
<line x1="568.9" y1="772.46" x2="565.9" y2="772.46" stroke="#e2d6d6" stroke-width="1"/>
<line x1="656.26" y1="859" x2="656.26" y2="862" stroke="#e2d6d6" stroke-width="1"/>
<line x1="568.9" y1="751.6" x2="565.9" y2="751.6" stroke="#e2d6d6" stroke-width="1"/>
<line x1="677.1" y1="859" x2="677.1" y2="862" stroke="#e2d6d6" stroke-width="1"/>
<text transform="translate(561.2,855.9) rotate(-90)" x="0" y="3.85" font-size="11" fill="#e9e1e1" text-anchor="middle">0.0</text>
<text transform="translate(561.2,835.04) rotate(-90)" x="0" y="3.85" font-size="11" fill="#e9e1e1" text-anchor="middle">0.2</text>
<text transform="translate(561.2,814.18) rotate(-90)" x="0" y="3.85" font-size="11" fill="#e9e1e1" text-anchor="middle">0.4</text>
<text transform="translate(561.2,793.32) rotate(-90)" x="0" y="3.85" font-size="11" fill="#e9e1e1" text-anchor="middle">0.6</text>
<text transform="translate(561.2,772.46) rotate(-90)" x="0" y="3.85" font-size="11" fill="#e9e1e1" text-anchor="middle">0.8</text>
<text transform="translate(561.2,751.6) rotate(-90)" x="0" y="3.85" font-size="11" fill="#e9e1e1" text-anchor="middle">1.0</text>
<text x="572.9" y="871.25" font-size="11" fill="#e9e1e1" text-anchor="middle">1.0</text>
<text x="593.74" y="871.25" font-size="11" fill="#e9e1e1" text-anchor="middle">0.8</text>
<text x="614.58" y="871.25" font-size="11" fill="#e9e1e1" text-anchor="middle">0.6</text>
<text x="635.42" y="871.25" font-size="11" fill="#e9e1e1" text-anchor="middle">0.4</text>
<text x="656.26" y="871.25" font-size="11" fill="#e9e1e1" text-anchor="middle">0.2</text>
<text x="677.1" y="871.25" font-size="11" fill="#e9e1e1" text-anchor="middle">0.0</text>
<text x="629.5" y="883.95" font-size="11" fill="#e9e1e1" text-anchor="middle">Specificity(%)</text>
<text transform="translate(548,797.7) rotate(-90)" x="0" y="3.85" font-size="11" fill="#e9e1e1" text-anchor="middle">Sensitivity(%)</text>
<text x="608.8" y="796.35" font-size="11" fill="#e9e1e1" text-anchor="start">0.556</text>
<text x="591.6" y="810.35" font-size="11" fill="#e9e1e1" text-anchor="start">(0.9,0.524)</text>
<text x="596.2" y="830.25" font-size="11" fill="#e9e1e1" text-anchor="start">AUC: 0.739</text>
<text x="583.4" y="842.25" font-size="11" fill="#e9e1e1" text-anchor="start">p−value: 0.009</text>
<text x="577.6" y="855.35" font-size="11" fill="#e9e1e1" text-anchor="start">95% CI: 0.583−0.895</text>
<line x1="423.9" y1="60.9" x2="423.9" y2="87.3" stroke="#ece0e0" stroke-width="1.1" stroke-dasharray="4.3,3.9"/>
<line x1="423.9" y1="121.8" x2="423.9" y2="108.1" stroke="#ece0e0" stroke-width="1.1" stroke-dasharray="4.3,3.9"/>
<line x1="420.4" y1="60.9" x2="427.4" y2="60.9" stroke="#ece0e0" stroke-width="1.2"/>
<line x1="420.4" y1="121.8" x2="427.4" y2="121.8" stroke="#ece0e0" stroke-width="1.2"/>
<rect x="417" y="87.3" width="13.8" height="20.8" fill="#20eeee" stroke="#ece0e0" stroke-width="1.1"/>
<line x1="417.6" y1="96.4" x2="430.2" y2="96.4" stroke="#f0e2e2" stroke-width="2.6"/>
<circle cx="423.9" cy="93.1" r="1.6" fill="#f4eaea"/>
<line x1="440.1" y1="54" x2="440.1" y2="78.4" stroke="#ece0e0" stroke-width="1.1" stroke-dasharray="4.3,3.9"/>
<line x1="440.1" y1="123.6" x2="440.1" y2="114.6" stroke="#ece0e0" stroke-width="1.1" stroke-dasharray="4.3,3.9"/>
<line x1="436.6" y1="54" x2="443.6" y2="54" stroke="#ece0e0" stroke-width="1.2"/>
<line x1="436.6" y1="123.6" x2="443.6" y2="123.6" stroke="#ece0e0" stroke-width="1.2"/>
<rect x="433.3" y="78.4" width="13.6" height="36.2" fill="#c8782c" stroke="#ece0e0" stroke-width="1.1"/>
<line x1="433.9" y1="95.5" x2="446.3" y2="95.5" stroke="#f0e2e2" stroke-width="2.6"/>
<circle cx="440.1" cy="95.5" r="1.6" fill="#f4eaea"/>
<line x1="456.95" y1="50.9" x2="456.95" y2="82.4" stroke="#ece0e0" stroke-width="1.1" stroke-dasharray="4.3,3.9"/>
<line x1="456.95" y1="119" x2="456.95" y2="106.2" stroke="#ece0e0" stroke-width="1.1" stroke-dasharray="4.3,3.9"/>
<line x1="453.45" y1="50.9" x2="460.45" y2="50.9" stroke="#ece0e0" stroke-width="1.2"/>
<line x1="453.45" y1="119" x2="460.45" y2="119" stroke="#ece0e0" stroke-width="1.2"/>
<rect x="450.1" y="82.4" width="13.7" height="23.8" fill="#b21ce0" stroke="#ece0e0" stroke-width="1.1"/>
<line x1="450.7" y1="90.6" x2="463.2" y2="90.6" stroke="#f0e2e2" stroke-width="2.6"/>
<circle cx="456.95" cy="88.8" r="1.6" fill="#f4eaea"/>
<line x1="490.1" y1="21.8" x2="490.1" y2="33" stroke="#ece0e0" stroke-width="1.1" stroke-dasharray="4.3,3.9"/>
<line x1="490.1" y1="67.5" x2="490.1" y2="54.5" stroke="#ece0e0" stroke-width="1.1" stroke-dasharray="4.3,3.9"/>
<line x1="486.6" y1="21.8" x2="493.6" y2="21.8" stroke="#ece0e0" stroke-width="1.2"/>
<line x1="486.6" y1="67.5" x2="493.6" y2="67.5" stroke="#ece0e0" stroke-width="1.2"/>
<rect x="483.2" y="33" width="13.8" height="21.5" fill="#20eeee" stroke="#ece0e0" stroke-width="1.1"/>
<line x1="483.8" y1="44" x2="496.4" y2="44" stroke="#f0e2e2" stroke-width="2.6"/>
<circle cx="490.1" cy="47.5" r="1.6" fill="#f4eaea"/>
<line x1="506.8" y1="28.5" x2="506.8" y2="49.5" stroke="#ece0e0" stroke-width="1.1" stroke-dasharray="4.3,3.9"/>
<line x1="506.8" y1="110.4" x2="506.8" y2="82.6" stroke="#ece0e0" stroke-width="1.1" stroke-dasharray="4.3,3.9"/>
<line x1="503.3" y1="28.5" x2="510.3" y2="28.5" stroke="#ece0e0" stroke-width="1.2"/>
<line x1="503.3" y1="110.4" x2="510.3" y2="110.4" stroke="#ece0e0" stroke-width="1.2"/>
<rect x="500" y="49.5" width="13.6" height="33.1" fill="#c8782c" stroke="#ece0e0" stroke-width="1.1"/>
<line x1="500.6" y1="71.4" x2="513" y2="71.4" stroke="#f0e2e2" stroke-width="2.6"/>
<circle cx="506.8" cy="66.2" r="1.6" fill="#f4eaea"/>
<line x1="523.45" y1="21.8" x2="523.45" y2="29.8" stroke="#ece0e0" stroke-width="1.1" stroke-dasharray="4.3,3.9"/>
<line x1="523.45" y1="98.8" x2="523.45" y2="79.6" stroke="#ece0e0" stroke-width="1.1" stroke-dasharray="4.3,3.9"/>
<line x1="519.95" y1="21.8" x2="526.95" y2="21.8" stroke="#ece0e0" stroke-width="1.2"/>
<line x1="519.95" y1="98.8" x2="526.95" y2="98.8" stroke="#ece0e0" stroke-width="1.2"/>
<rect x="516.5" y="29.8" width="13.9" height="49.8" fill="#b21ce0" stroke="#ece0e0" stroke-width="1.1"/>
<line x1="517.1" y1="65.4" x2="529.8" y2="65.4" stroke="#f0e2e2" stroke-width="2.6"/>
<circle cx="523.45" cy="59.5" r="1.6" fill="#f4eaea"/>
<circle cx="423.9" cy="27.1" r="1.3" fill="none" stroke="#ece0e0" stroke-width="0.9"/>
<circle cx="423.9" cy="53.6" r="1.3" fill="none" stroke="#ece0e0" stroke-width="0.9"/>
<circle cx="490.1" cy="86.4" r="1.3" fill="none" stroke="#ece0e0" stroke-width="0.9"/>
<circle cx="490.1" cy="107.2" r="1.3" fill="none" stroke="#ece0e0" stroke-width="0.9"/>
<rect x="410.3" y="17.2" width="126" height="110.1" fill="none" stroke="#e2d6d6" stroke-width="1.2"/>
<line x1="410.3" y1="126.3" x2="407.3" y2="126.3" stroke="#e2d6d6" stroke-width="1"/>
<text transform="translate(403.4,126.3) rotate(-90)" x="0" y="3.74" font-size="10.7" fill="#e9e1e1" text-anchor="middle">0.0</text>
<line x1="410.3" y1="104.86" x2="407.3" y2="104.86" stroke="#e2d6d6" stroke-width="1"/>
<text transform="translate(403.4,104.86) rotate(-90)" x="0" y="3.74" font-size="10.7" fill="#e9e1e1" text-anchor="middle">0.2</text>
<line x1="410.3" y1="83.42" x2="407.3" y2="83.42" stroke="#e2d6d6" stroke-width="1"/>
<text transform="translate(403.4,83.42) rotate(-90)" x="0" y="3.74" font-size="10.7" fill="#e9e1e1" text-anchor="middle">0.4</text>
<line x1="410.3" y1="61.98" x2="407.3" y2="61.98" stroke="#e2d6d6" stroke-width="1"/>
<text transform="translate(403.4,61.98) rotate(-90)" x="0" y="3.74" font-size="10.7" fill="#e9e1e1" text-anchor="middle">0.6</text>
<line x1="410.3" y1="40.54" x2="407.3" y2="40.54" stroke="#e2d6d6" stroke-width="1"/>
<text transform="translate(403.4,40.54) rotate(-90)" x="0" y="3.74" font-size="10.7" fill="#e9e1e1" text-anchor="middle">0.8</text>
<line x1="410.3" y1="19.1" x2="407.3" y2="19.1" stroke="#e2d6d6" stroke-width="1"/>
<text transform="translate(403.4,19.1) rotate(-90)" x="0" y="3.74" font-size="10.7" fill="#e9e1e1" text-anchor="middle">1.0</text>
<text transform="translate(388,75.3) rotate(-90)" x="0" y="3.74" font-size="10.7" fill="#e9e1e1" text-anchor="middle">POD</text>
<text x="415.4" y="139.75" font-size="10.7" fill="#e9e1e1" text-anchor="middle">con</text>
<text x="497.8" y="139.75" font-size="10.7" fill="#e9e1e1" text-anchor="middle">MTN</text>
<line x1="421.1" y1="332.3" x2="421.1" y2="359.5" stroke="#ece0e0" stroke-width="1.1" stroke-dasharray="4.3,3.9"/>
<line x1="421.1" y1="415" x2="421.1" y2="400.3" stroke="#ece0e0" stroke-width="1.1" stroke-dasharray="4.3,3.9"/>
<line x1="417.6" y1="332.3" x2="424.6" y2="332.3" stroke="#ece0e0" stroke-width="1.2"/>
<line x1="417.6" y1="415" x2="424.6" y2="415" stroke="#ece0e0" stroke-width="1.2"/>
<rect x="414.4" y="359.5" width="13.4" height="40.8" fill="#20eeee" stroke="#ece0e0" stroke-width="1.1"/>
<line x1="415" y1="392.2" x2="427.2" y2="392.2" stroke="#f0e2e2" stroke-width="2.6"/>
<circle cx="421.1" cy="382.2" r="1.6" fill="#f4eaea"/>
<line x1="437.35" y1="347.1" x2="437.35" y2="354" stroke="#ece0e0" stroke-width="1.1" stroke-dasharray="4.3,3.9"/>
<line x1="437.35" y1="396" x2="437.35" y2="382.6" stroke="#ece0e0" stroke-width="1.1" stroke-dasharray="4.3,3.9"/>
<line x1="433.85" y1="347.1" x2="440.85" y2="347.1" stroke="#ece0e0" stroke-width="1.2"/>
<line x1="433.85" y1="396" x2="440.85" y2="396" stroke="#ece0e0" stroke-width="1.2"/>
<rect x="430.5" y="354" width="13.7" height="28.6" fill="#c8782c" stroke="#ece0e0" stroke-width="1.1"/>
<line x1="431.1" y1="366" x2="443.6" y2="366" stroke="#f0e2e2" stroke-width="2.6"/>
<circle cx="437.35" cy="367.5" r="1.6" fill="#f4eaea"/>
<line x1="453.75" y1="341.6" x2="453.75" y2="369.2" stroke="#ece0e0" stroke-width="1.1" stroke-dasharray="4.3,3.9"/>
<line x1="453.75" y1="417.3" x2="453.75" y2="396" stroke="#ece0e0" stroke-width="1.1" stroke-dasharray="4.3,3.9"/>
<line x1="450.25" y1="341.6" x2="457.25" y2="341.6" stroke="#ece0e0" stroke-width="1.2"/>
<line x1="450.25" y1="417.3" x2="457.25" y2="417.3" stroke="#ece0e0" stroke-width="1.2"/>
<rect x="446.9" y="369.2" width="13.7" height="26.8" fill="#b21ce0" stroke="#ece0e0" stroke-width="1.1"/>
<line x1="447.5" y1="387.3" x2="460" y2="387.3" stroke="#f0e2e2" stroke-width="2.6"/>
<circle cx="453.75" cy="382.8" r="1.6" fill="#f4eaea"/>
<line x1="486.75" y1="317.3" x2="486.75" y2="322.3" stroke="#ece0e0" stroke-width="1.1" stroke-dasharray="4.3,3.9"/>
<line x1="486.75" y1="417.3" x2="486.75" y2="366.5" stroke="#ece0e0" stroke-width="1.1" stroke-dasharray="4.3,3.9"/>
<line x1="483.25" y1="317.3" x2="490.25" y2="317.3" stroke="#ece0e0" stroke-width="1.2"/>
<line x1="483.25" y1="417.3" x2="490.25" y2="417.3" stroke="#ece0e0" stroke-width="1.2"/>
<rect x="479.9" y="322.3" width="13.7" height="44.2" fill="#20eeee" stroke="#ece0e0" stroke-width="1.1"/>
<line x1="480.5" y1="338.4" x2="493" y2="338.4" stroke="#f0e2e2" stroke-width="2.6"/>
<circle cx="486.75" cy="345.9" r="1.6" fill="#f4eaea"/>
<line x1="503" y1="315.6" x2="503" y2="335.2" stroke="#ece0e0" stroke-width="1.1" stroke-dasharray="4.3,3.9"/>
<line x1="503" y1="384.8" x2="503" y2="371.9" stroke="#ece0e0" stroke-width="1.1" stroke-dasharray="4.3,3.9"/>
<line x1="499.5" y1="315.6" x2="506.5" y2="315.6" stroke="#ece0e0" stroke-width="1.2"/>
<line x1="499.5" y1="384.8" x2="506.5" y2="384.8" stroke="#ece0e0" stroke-width="1.2"/>
<rect x="496.3" y="335.2" width="13.4" height="36.7" fill="#c8782c" stroke="#ece0e0" stroke-width="1.1"/>
<line x1="496.9" y1="345.4" x2="509.1" y2="345.4" stroke="#f0e2e2" stroke-width="2.6"/>
<circle cx="503" cy="350.1" r="1.6" fill="#f4eaea"/>
<line x1="519.5" y1="324.3" x2="519.5" y2="348.3" stroke="#ece0e0" stroke-width="1.1" stroke-dasharray="4.3,3.9"/>
<line x1="519.5" y1="404.2" x2="519.5" y2="381.4" stroke="#ece0e0" stroke-width="1.1" stroke-dasharray="4.3,3.9"/>
<line x1="516" y1="324.3" x2="523" y2="324.3" stroke="#ece0e0" stroke-width="1.2"/>
<line x1="516" y1="404.2" x2="523" y2="404.2" stroke="#ece0e0" stroke-width="1.2"/>
<rect x="512.7" y="348.3" width="13.6" height="33.1" fill="#b21ce0" stroke="#ece0e0" stroke-width="1.1"/>
<line x1="513.3" y1="356.3" x2="525.7" y2="356.3" stroke="#f0e2e2" stroke-width="2.6"/>
<circle cx="519.5" cy="362.2" r="1.6" fill="#f4eaea"/>
<rect x="408.2" y="311.3" width="124.3" height="110.7" fill="none" stroke="#e2d6d6" stroke-width="1.2"/>
<line x1="408.2" y1="421.7" x2="405.2" y2="421.7" stroke="#e2d6d6" stroke-width="1"/>
<text transform="translate(400.5,421.7) rotate(-90)" x="0" y="3.74" font-size="10.7" fill="#e9e1e1" text-anchor="middle">0.0</text>
<line x1="408.2" y1="399.88" x2="405.2" y2="399.88" stroke="#e2d6d6" stroke-width="1"/>
<text transform="translate(400.5,399.88) rotate(-90)" x="0" y="3.74" font-size="10.7" fill="#e9e1e1" text-anchor="middle">0.2</text>
<line x1="408.2" y1="378.06" x2="405.2" y2="378.06" stroke="#e2d6d6" stroke-width="1"/>
<text transform="translate(400.5,378.06) rotate(-90)" x="0" y="3.74" font-size="10.7" fill="#e9e1e1" text-anchor="middle">0.4</text>
<line x1="408.2" y1="356.24" x2="405.2" y2="356.24" stroke="#e2d6d6" stroke-width="1"/>
<text transform="translate(400.5,356.24) rotate(-90)" x="0" y="3.74" font-size="10.7" fill="#e9e1e1" text-anchor="middle">0.6</text>
<line x1="408.2" y1="334.42" x2="405.2" y2="334.42" stroke="#e2d6d6" stroke-width="1"/>
<text transform="translate(400.5,334.42) rotate(-90)" x="0" y="3.74" font-size="10.7" fill="#e9e1e1" text-anchor="middle">0.8</text>
<line x1="408.2" y1="312.6" x2="405.2" y2="312.6" stroke="#e2d6d6" stroke-width="1"/>
<text transform="translate(400.5,312.6) rotate(-90)" x="0" y="3.74" font-size="10.7" fill="#e9e1e1" text-anchor="middle">1.0</text>
<text transform="translate(386.2,361.2) rotate(-90)" x="0" y="3.74" font-size="10.7" fill="#e9e1e1" text-anchor="middle">POD</text>
<text x="437" y="434.44" font-size="10.7" fill="#e9e1e1" text-anchor="middle">PTC</text>
<text x="515.2" y="434.44" font-size="10.7" fill="#e9e1e1" text-anchor="middle">BTN</text>
<line x1="423.1" y1="637.1" x2="423.1" y2="667.4" stroke="#ece0e0" stroke-width="1.1" stroke-dasharray="4.3,3.9"/>
<line x1="423.1" y1="709.1" x2="423.1" y2="698.7" stroke="#ece0e0" stroke-width="1.1" stroke-dasharray="4.3,3.9"/>
<line x1="419.6" y1="637.1" x2="426.6" y2="637.1" stroke="#ece0e0" stroke-width="1.2"/>
<line x1="419.6" y1="709.1" x2="426.6" y2="709.1" stroke="#ece0e0" stroke-width="1.2"/>
<rect x="416.4" y="667.4" width="13.4" height="31.3" fill="#20eeee" stroke="#ece0e0" stroke-width="1.1"/>
<line x1="417" y1="681.3" x2="429.2" y2="681.3" stroke="#f0e2e2" stroke-width="2.6"/>
<circle cx="423.1" cy="678.6" r="1.6" fill="#f4eaea"/>
<line x1="439.2" y1="642.1" x2="439.2" y2="660.7" stroke="#ece0e0" stroke-width="1.1" stroke-dasharray="4.3,3.9"/>
<line x1="439.2" y1="716.6" x2="439.2" y2="704.4" stroke="#ece0e0" stroke-width="1.1" stroke-dasharray="4.3,3.9"/>
<line x1="435.7" y1="642.1" x2="442.7" y2="642.1" stroke="#ece0e0" stroke-width="1.2"/>
<line x1="435.7" y1="716.6" x2="442.7" y2="716.6" stroke="#ece0e0" stroke-width="1.2"/>
<rect x="432.5" y="660.7" width="13.4" height="43.7" fill="#c8782c" stroke="#ece0e0" stroke-width="1.1"/>
<line x1="433.1" y1="688" x2="445.3" y2="688" stroke="#f0e2e2" stroke-width="2.6"/>
<circle cx="439.2" cy="683.3" r="1.6" fill="#f4eaea"/>
<line x1="455.4" y1="652.8" x2="455.4" y2="668.2" stroke="#ece0e0" stroke-width="1.1" stroke-dasharray="4.3,3.9"/>
<line x1="455.4" y1="707.9" x2="455.4" y2="691" stroke="#ece0e0" stroke-width="1.1" stroke-dasharray="4.3,3.9"/>
<line x1="451.9" y1="652.8" x2="458.9" y2="652.8" stroke="#ece0e0" stroke-width="1.2"/>
<line x1="451.9" y1="707.9" x2="458.9" y2="707.9" stroke="#ece0e0" stroke-width="1.2"/>
<rect x="448.7" y="668.2" width="13.4" height="22.8" fill="#b21ce0" stroke="#ece0e0" stroke-width="1.1"/>
<line x1="449.3" y1="679.8" x2="461.5" y2="679.8" stroke="#f0e2e2" stroke-width="2.6"/>
<circle cx="455.4" cy="677.6" r="1.6" fill="#f4eaea"/>
<line x1="487.4" y1="618.5" x2="487.4" y2="631.7" stroke="#ece0e0" stroke-width="1.1" stroke-dasharray="4.3,3.9"/>
<line x1="487.4" y1="702.9" x2="487.4" y2="663.4" stroke="#ece0e0" stroke-width="1.1" stroke-dasharray="4.3,3.9"/>
<line x1="483.9" y1="618.5" x2="490.9" y2="618.5" stroke="#ece0e0" stroke-width="1.2"/>
<line x1="483.9" y1="702.9" x2="490.9" y2="702.9" stroke="#ece0e0" stroke-width="1.2"/>
<rect x="480.7" y="631.7" width="13.4" height="31.7" fill="#20eeee" stroke="#ece0e0" stroke-width="1.1"/>
<line x1="481.3" y1="651.5" x2="493.5" y2="651.5" stroke="#f0e2e2" stroke-width="2.6"/>
<circle cx="487.4" cy="650.8" r="1.6" fill="#f4eaea"/>
<line x1="503.5" y1="617.3" x2="503.5" y2="636.2" stroke="#ece0e0" stroke-width="1.1" stroke-dasharray="4.3,3.9"/>
<line x1="503.5" y1="705.4" x2="503.5" y2="678.1" stroke="#ece0e0" stroke-width="1.1" stroke-dasharray="4.3,3.9"/>
<line x1="500" y1="617.3" x2="507" y2="617.3" stroke="#ece0e0" stroke-width="1.2"/>
<line x1="500" y1="705.4" x2="507" y2="705.4" stroke="#ece0e0" stroke-width="1.2"/>
<rect x="496.8" y="636.2" width="13.4" height="41.9" fill="#c8782c" stroke="#ece0e0" stroke-width="1.1"/>
<line x1="497.4" y1="656.5" x2="509.6" y2="656.5" stroke="#f0e2e2" stroke-width="2.6"/>
<circle cx="503.5" cy="659" r="1.6" fill="#f4eaea"/>
<line x1="519.6" y1="618.5" x2="519.6" y2="640.4" stroke="#ece0e0" stroke-width="1.1" stroke-dasharray="4.3,3.9"/>
<line x1="519.6" y1="694.2" x2="519.6" y2="673.1" stroke="#ece0e0" stroke-width="1.1" stroke-dasharray="4.3,3.9"/>
<line x1="516.1" y1="618.5" x2="523.1" y2="618.5" stroke="#ece0e0" stroke-width="1.2"/>
<line x1="516.1" y1="694.2" x2="523.1" y2="694.2" stroke="#ece0e0" stroke-width="1.2"/>
<rect x="512.9" y="640.4" width="13.4" height="32.7" fill="#b21ce0" stroke="#ece0e0" stroke-width="1.1"/>
<line x1="513.5" y1="661.2" x2="525.7" y2="661.2" stroke="#f0e2e2" stroke-width="2.6"/>
<circle cx="519.6" cy="658.2" r="1.6" fill="#f4eaea"/>
<circle cx="455.4" cy="621.8" r="1.3" fill="none" stroke="#ece0e0" stroke-width="0.9"/>
<rect x="410.2" y="612.8" width="122.3" height="107.5" fill="none" stroke="#e2d6d6" stroke-width="1.2"/>
<line x1="410.2" y1="719.5" x2="407.2" y2="719.5" stroke="#e2d6d6" stroke-width="1"/>
<text transform="translate(403,719.5) rotate(-90)" x="0" y="3.74" font-size="10.7" fill="#e9e1e1" text-anchor="middle">0.0</text>
<line x1="410.2" y1="698.56" x2="407.2" y2="698.56" stroke="#e2d6d6" stroke-width="1"/>
<text transform="translate(403,698.56) rotate(-90)" x="0" y="3.74" font-size="10.7" fill="#e9e1e1" text-anchor="middle">0.2</text>
<line x1="410.2" y1="677.62" x2="407.2" y2="677.62" stroke="#e2d6d6" stroke-width="1"/>
<text transform="translate(403,677.62) rotate(-90)" x="0" y="3.74" font-size="10.7" fill="#e9e1e1" text-anchor="middle">0.4</text>
<line x1="410.2" y1="656.68" x2="407.2" y2="656.68" stroke="#e2d6d6" stroke-width="1"/>
<text transform="translate(403,656.68) rotate(-90)" x="0" y="3.74" font-size="10.7" fill="#e9e1e1" text-anchor="middle">0.6</text>
<line x1="410.2" y1="635.74" x2="407.2" y2="635.74" stroke="#e2d6d6" stroke-width="1"/>
<text transform="translate(403,635.74) rotate(-90)" x="0" y="3.74" font-size="10.7" fill="#e9e1e1" text-anchor="middle">0.8</text>
<line x1="410.2" y1="614.8" x2="407.2" y2="614.8" stroke="#e2d6d6" stroke-width="1"/>
<text transform="translate(403,614.8) rotate(-90)" x="0" y="3.74" font-size="10.7" fill="#e9e1e1" text-anchor="middle">1.0</text>
<text transform="translate(388,666) rotate(-90)" x="0" y="3.74" font-size="10.7" fill="#e9e1e1" text-anchor="middle">POD</text>
<text x="422.1" y="732.75" font-size="10.7" fill="#e9e1e1" text-anchor="middle">con</text>
<text x="505.2" y="732.75" font-size="10.7" fill="#e9e1e1" text-anchor="middle">BTN</text>
<polyline points="37.1,36.1 46,49 51.4,61.4 55.2,87 57.4,123.4 61,148 63.2,148.6 66.4,161.9 68.9,185.4 71.7,197.8 74.9,148 77.5,148 80.3,172.6 83,159.8 86,172.6 88.8,172.6 94.2,197.8 97.4,172.6 100.6,185.4" fill="none" stroke="#f3e7e7" stroke-width="2" stroke-linejoin="round"/>
<line x1="69.3" y1="30.3" x2="69.3" y2="204.5" stroke="#1c7a26" stroke-width="1.3"/>
<rect x="35" y="30.3" width="67.5" height="174.2" fill="none" stroke="#e2d6d6" stroke-width="1.2"/>
<line x1="35" y1="41.7" x2="32.5" y2="41.7" stroke="#e2d6d6" stroke-width="1"/>
<line x1="35" y1="76.2" x2="32.5" y2="76.2" stroke="#e2d6d6" stroke-width="1"/>
<line x1="35" y1="111" x2="32.5" y2="111" stroke="#e2d6d6" stroke-width="1"/>
<line x1="35" y1="146.2" x2="32.5" y2="146.2" stroke="#e2d6d6" stroke-width="1"/>
<line x1="35" y1="181.3" x2="32.5" y2="181.3" stroke="#e2d6d6" stroke-width="1"/>
<text transform="translate(28.9,41.7) rotate(-90)" x="0" y="3.39" font-size="9.7" fill="#e9e1e1" text-anchor="middle">0.35</text>
<text transform="translate(28.9,76.2) rotate(-90)" x="0" y="3.39" font-size="9.7" fill="#e9e1e1" text-anchor="middle">0.30</text>
<text transform="translate(28.9,111) rotate(-90)" x="0" y="3.39" font-size="9.7" fill="#e9e1e1" text-anchor="middle">0.25</text>
<text transform="translate(28.9,146.2) rotate(-90)" x="0" y="3.39" font-size="9.7" fill="#e9e1e1" text-anchor="middle">0.20</text>
<text transform="translate(28.9,181.3) rotate(-90)" x="0" y="3.39" font-size="9.7" fill="#e9e1e1" text-anchor="middle">0.15</text>
<line x1="37.5" y1="204.5" x2="37.5" y2="207" stroke="#e2d6d6" stroke-width="1"/>
<line x1="57.6" y1="204.5" x2="57.6" y2="207" stroke="#e2d6d6" stroke-width="1"/>
<line x1="74.7" y1="204.5" x2="74.7" y2="207" stroke="#e2d6d6" stroke-width="1"/>
<line x1="94.4" y1="204.5" x2="94.4" y2="207" stroke="#e2d6d6" stroke-width="1"/>
<text x="38.4" y="216" font-size="9.7" fill="#e9e1e1" text-anchor="middle">1</text>
<text x="58.3" y="216" font-size="9.7" fill="#e9e1e1" text-anchor="middle">5</text>
<text x="76.5" y="216" font-size="9.7" fill="#e9e1e1" text-anchor="middle">20</text>
<text x="96.8" y="216" font-size="9.7" fill="#e9e1e1" text-anchor="middle">100</text>
<text x="61.7" y="227.8" font-size="9.7" fill="#e9e1e1" text-anchor="middle">Number of vars</text>
<text transform="translate(15.6,112.7) rotate(-90)" x="0" y="3.39" font-size="9.7" fill="#e9e1e1" text-anchor="middle">CV Error</text>
<text x="77.5" y="88.58" font-size="10.5" fill="#1fcfd8" text-anchor="middle" font-weight="bold">13</text>
<polyline points="39.5,343.3 54.8,396.6 63.8,439 70.3,495.3 75.5,480 82.9,425.9 88.4,440 94.6,481.5 97.5,535.7 103,535.7" fill="none" stroke="#f3e7e7" stroke-width="2" stroke-linejoin="round"/>
<line x1="104" y1="336.9" x2="104" y2="543.4" stroke="#1c7a26" stroke-width="1.3"/>
<rect x="37.7" y="336.9" width="68.3" height="206.5" fill="none" stroke="#e2d6d6" stroke-width="1.2"/>
<line x1="37.7" y1="336.9" x2="35.2" y2="336.9" stroke="#e2d6d6" stroke-width="1"/>
<line x1="37.7" y1="380.3" x2="35.2" y2="380.3" stroke="#e2d6d6" stroke-width="1"/>
<line x1="37.7" y1="423.6" x2="35.2" y2="423.6" stroke="#e2d6d6" stroke-width="1"/>
<line x1="37.7" y1="467" x2="35.2" y2="467" stroke="#e2d6d6" stroke-width="1"/>
<line x1="37.7" y1="510.4" x2="35.2" y2="510.4" stroke="#e2d6d6" stroke-width="1"/>
<text transform="translate(30.3,338.2) rotate(-90)" x="0" y="3.39" font-size="9.7" fill="#e9e1e1" text-anchor="middle">0.50</text>
<text transform="translate(30.3,422) rotate(-90)" x="0" y="3.39" font-size="9.7" fill="#e9e1e1" text-anchor="middle">0.40</text>
<text transform="translate(30.3,509.5) rotate(-90)" x="0" y="3.39" font-size="9.7" fill="#e9e1e1" text-anchor="middle">0.30</text>
<line x1="39.5" y1="543.4" x2="39.5" y2="545.9" stroke="#e2d6d6" stroke-width="1"/>
<line x1="75.5" y1="543.4" x2="75.5" y2="545.9" stroke="#e2d6d6" stroke-width="1"/>
<line x1="101" y1="543.4" x2="101" y2="545.9" stroke="#e2d6d6" stroke-width="1"/>
<text x="39.8" y="555.79" font-size="9.7" fill="#e9e1e1" text-anchor="middle">1</text>
<text x="75.5" y="555.79" font-size="9.7" fill="#e9e1e1" text-anchor="middle">10</text>
<text x="101" y="555.79" font-size="9.7" fill="#e9e1e1" text-anchor="middle">20</text>
<text x="64.8" y="566.6" font-size="9.7" fill="#e9e1e1" text-anchor="middle">Number of vars</text>
<text transform="translate(16.1,414.8) rotate(-90)" x="0" y="3.39" font-size="9.7" fill="#e9e1e1" text-anchor="middle">CV Error</text>
<text x="96.6" y="395.07" font-size="10.5" fill="#1fcfd8" text-anchor="middle" font-weight="bold">18</text>
<polyline points="34.5,628.9 45.9,628.9 52,642.4 56.5,654.5 60,668.4 64.1,722.1 66.9,682.3 70.4,722.1 73.5,756.8 77,789.7 80.8,749.8 84.2,801.8 87.3,789.7 90.8,815.7 94.3,775.8 98.1,789.7" fill="none" stroke="#f3e7e7" stroke-width="2" stroke-linejoin="round"/>
<line x1="73.8" y1="621.9" x2="73.8" y2="822.8" stroke="#1c7a26" stroke-width="1.3"/>
<rect x="32.2" y="621.9" width="68.3" height="200.9" fill="none" stroke="#e2d6d6" stroke-width="1.2"/>
<line x1="32.2" y1="649.2" x2="29.7" y2="649.2" stroke="#e2d6d6" stroke-width="1"/>
<line x1="32.2" y1="691.4" x2="29.7" y2="691.4" stroke="#e2d6d6" stroke-width="1"/>
<line x1="32.2" y1="733.6" x2="29.7" y2="733.6" stroke="#e2d6d6" stroke-width="1"/>
<line x1="32.2" y1="775.8" x2="29.7" y2="775.8" stroke="#e2d6d6" stroke-width="1"/>
<line x1="32.2" y1="818" x2="29.7" y2="818" stroke="#e2d6d6" stroke-width="1"/>
<text transform="translate(27,646.5) rotate(-90)" x="0" y="3.39" font-size="9.7" fill="#e9e1e1" text-anchor="middle">0.50</text>
<text transform="translate(27,689.5) rotate(-90)" x="0" y="3.39" font-size="9.7" fill="#e9e1e1" text-anchor="middle">0.45</text>
<text transform="translate(27,732.5) rotate(-90)" x="0" y="3.39" font-size="9.7" fill="#e9e1e1" text-anchor="middle">0.40</text>
<text transform="translate(27,774.5) rotate(-90)" x="0" y="3.39" font-size="9.7" fill="#e9e1e1" text-anchor="middle">0.35</text>
<text transform="translate(27,816.5) rotate(-90)" x="0" y="3.39" font-size="9.7" fill="#e9e1e1" text-anchor="middle">0.30</text>
<line x1="20.1" y1="822.8" x2="20.1" y2="825.3" stroke="#e2d6d6" stroke-width="1"/>
<line x1="33.6" y1="822.8" x2="33.6" y2="825.3" stroke="#e2d6d6" stroke-width="1"/>
<line x1="49.6" y1="822.8" x2="49.6" y2="825.3" stroke="#e2d6d6" stroke-width="1"/>
<line x1="62.4" y1="822.8" x2="62.4" y2="825.3" stroke="#e2d6d6" stroke-width="1"/>
<line x1="78" y1="822.8" x2="78" y2="825.3" stroke="#e2d6d6" stroke-width="1"/>
<line x1="92.9" y1="822.8" x2="92.9" y2="825.3" stroke="#e2d6d6" stroke-width="1"/>
<text x="20.1" y="833" font-size="9.7" fill="#e9e1e1" text-anchor="middle">1</text>
<text x="33.6" y="833" font-size="9.7" fill="#e9e1e1" text-anchor="middle">2</text>
<text x="49.6" y="833" font-size="9.7" fill="#e9e1e1" text-anchor="middle">5</text>
<text x="62.4" y="833" font-size="9.7" fill="#e9e1e1" text-anchor="middle">10</text>
<text x="78" y="833" font-size="9.7" fill="#e9e1e1" text-anchor="middle">20</text>
<text x="92.9" y="833" font-size="9.7" fill="#e9e1e1" text-anchor="middle">50</text>
<text x="55.5" y="844.39" font-size="9.7" fill="#e9e1e1" text-anchor="middle">Number of vars</text>
<text transform="translate(11.5,716.9) rotate(-90)" x="0" y="3.39" font-size="9.7" fill="#e9e1e1" text-anchor="middle">CV Error</text>
<text x="81.5" y="676.17" font-size="10.5" fill="#1fcfd8" text-anchor="middle" font-weight="bold">13</text>
<line x1="117.3" y1="35" x2="180.2" y2="35" stroke="#806c64" stroke-width="1.4" stroke-dasharray="5.8,5.9"/>
<line x1="115" y1="35" x2="116.8" y2="35" stroke="#b9aaa2" stroke-width="1.2"/>
<line x1="117.3" y1="48.5" x2="180.2" y2="48.5" stroke="#806c64" stroke-width="1.4" stroke-dasharray="5.8,5.9"/>
<line x1="115" y1="48.5" x2="116.8" y2="48.5" stroke="#b9aaa2" stroke-width="1.2"/>
<line x1="117.3" y1="62" x2="180.2" y2="62" stroke="#806c64" stroke-width="1.4" stroke-dasharray="5.8,5.9"/>
<line x1="115" y1="62" x2="116.8" y2="62" stroke="#b9aaa2" stroke-width="1.2"/>
<line x1="117.3" y1="75.5" x2="180.2" y2="75.5" stroke="#806c64" stroke-width="1.4" stroke-dasharray="5.8,5.9"/>
<line x1="115" y1="75.5" x2="116.8" y2="75.5" stroke="#b9aaa2" stroke-width="1.2"/>
<line x1="117.3" y1="89" x2="180.2" y2="89" stroke="#806c64" stroke-width="1.4" stroke-dasharray="5.8,5.9"/>
<line x1="115" y1="89" x2="116.8" y2="89" stroke="#b9aaa2" stroke-width="1.2"/>
<line x1="117.3" y1="102.5" x2="180.2" y2="102.5" stroke="#806c64" stroke-width="1.4" stroke-dasharray="5.8,5.9"/>
<line x1="115" y1="102.5" x2="116.8" y2="102.5" stroke="#b9aaa2" stroke-width="1.2"/>
<line x1="117.3" y1="116" x2="180.2" y2="116" stroke="#806c64" stroke-width="1.4" stroke-dasharray="5.8,5.9"/>
<line x1="115" y1="116" x2="116.8" y2="116" stroke="#b9aaa2" stroke-width="1.2"/>
<line x1="117.3" y1="129.5" x2="180.2" y2="129.5" stroke="#806c64" stroke-width="1.4" stroke-dasharray="5.8,5.9"/>
<line x1="115" y1="129.5" x2="116.8" y2="129.5" stroke="#b9aaa2" stroke-width="1.2"/>
<line x1="117.3" y1="143" x2="180.2" y2="143" stroke="#806c64" stroke-width="1.4" stroke-dasharray="5.8,5.9"/>
<line x1="115" y1="143" x2="116.8" y2="143" stroke="#b9aaa2" stroke-width="1.2"/>
<line x1="117.3" y1="156.5" x2="180.2" y2="156.5" stroke="#806c64" stroke-width="1.4" stroke-dasharray="5.8,5.9"/>
<line x1="115" y1="156.5" x2="116.8" y2="156.5" stroke="#b9aaa2" stroke-width="1.2"/>
<line x1="117.3" y1="170" x2="180.2" y2="170" stroke="#806c64" stroke-width="1.4" stroke-dasharray="5.8,5.9"/>
<line x1="115" y1="170" x2="116.8" y2="170" stroke="#b9aaa2" stroke-width="1.2"/>
<line x1="117.3" y1="183.5" x2="180.2" y2="183.5" stroke="#806c64" stroke-width="1.4" stroke-dasharray="5.8,5.9"/>
<line x1="115" y1="183.5" x2="116.8" y2="183.5" stroke="#b9aaa2" stroke-width="1.2"/>
<line x1="117.3" y1="197" x2="180.2" y2="197" stroke="#806c64" stroke-width="1.4" stroke-dasharray="5.8,5.9"/>
<line x1="115" y1="197" x2="116.8" y2="197" stroke="#b9aaa2" stroke-width="1.2"/>
<circle cx="177.7" cy="35" r="2" fill="#16d9ec"/>
<text x="183.3" y="38.88" font-size="11.1" fill="#e9e1e1" text-anchor="start">ASV24 (<tspan font-style="italic">Dialister</tspan>)</text>
<circle cx="169.5" cy="48.5" r="2" fill="#16d9ec"/>
<text x="183.3" y="52.38" font-size="11.1" fill="#1fcfd8" text-anchor="start">ASV19 (<tspan font-style="italic">Lachnospira</tspan>)</text>
<circle cx="169.5" cy="62" r="2" fill="#16d9ec"/>
<text x="183.3" y="65.89" font-size="11.1" fill="#e9e1e1" text-anchor="start">ASV1941 (<tspan font-style="italic">Halomonas</tspan>)</text>
<circle cx="158.4" cy="75.5" r="2" fill="#16d9ec"/>
<text x="183.3" y="79.39" font-size="11.1" fill="#e9e1e1" text-anchor="start">ASV10 (<tspan font-style="italic">Bacteroides</tspan>)</text>
<circle cx="157.2" cy="89" r="2" fill="#16d9ec"/>
<text x="183.3" y="92.89" font-size="11.1" fill="#1fcfd8" text-anchor="start">ASV105 (<tspan font-style="italic">Oscillibacter</tspan>)</text>
<circle cx="142.9" cy="102.5" r="2" fill="#16d9ec"/>
<text x="183.3" y="106.39" font-size="11.1" fill="#e9e1e1" text-anchor="start">ASV254 (<tspan font-style="italic">Streptococcus</tspan>)</text>
<circle cx="136.5" cy="116" r="2" fill="#16d9ec"/>
<text x="183.3" y="119.89" font-size="11.1" fill="#1fcfd8" text-anchor="start">ASV2 (<tspan font-style="italic">Agathobacter</tspan>)</text>
<circle cx="135.3" cy="129.5" r="2" fill="#16d9ec"/>
<text x="183.3" y="133.38" font-size="11.1" fill="#1fcfd8" text-anchor="start">ASV132 (<tspan font-style="italic">Lachnospiraceae</tspan>_unclassified)</text>
<circle cx="134.2" cy="143" r="2" fill="#16d9ec"/>
<text x="183.3" y="146.88" font-size="11.1" fill="#1fcfd8" text-anchor="start">ASV100 (<tspan font-style="italic">Romboutsia</tspan>)</text>
<circle cx="133" cy="156.5" r="2" fill="#16d9ec"/>
<text x="183.3" y="160.38" font-size="11.1" fill="#1fcfd8" text-anchor="start">ASV142 (<tspan font-style="italic">Lachnospiraceae</tspan>_NK4A136)</text>
<circle cx="132.4" cy="170" r="2" fill="#16d9ec"/>
<text x="183.3" y="173.88" font-size="11.1" fill="#1fcfd8" text-anchor="start">ASV77 (<tspan font-style="italic">Christensenellaceae</tspan>_R−7)</text>
<circle cx="124.2" cy="183.5" r="2" fill="#16d9ec"/>
<text x="183.3" y="187.38" font-size="11.1" fill="#e9e1e1" text-anchor="start">ASV783 (<tspan font-style="italic">Atopobium</tspan>)</text>
<circle cx="119.9" cy="197" r="2" fill="#16d9ec"/>
<text x="183.3" y="200.88" font-size="11.1" fill="#e9e1e1" text-anchor="start">ASV101 (<tspan font-style="italic">Bacteroides</tspan>)</text>
<rect x="116.8" y="27.6" width="63.4" height="177.1" fill="none" stroke="#b9aaa2" stroke-width="1.2"/>
<line x1="133" y1="204.7" x2="133" y2="206.9" stroke="#b9aaa2" stroke-width="1"/>
<line x1="151.5" y1="204.7" x2="151.5" y2="206.9" stroke="#b9aaa2" stroke-width="1"/>
<line x1="169.8" y1="204.7" x2="169.8" y2="206.9" stroke="#b9aaa2" stroke-width="1"/>
<text x="133" y="216.2" font-size="9.7" fill="#e9e1e1" text-anchor="middle">5</text>
<text x="169.8" y="216.2" font-size="9.7" fill="#e9e1e1" text-anchor="middle">15</text>
<text x="116.4" y="228.09" font-size="9.7" fill="#e9e1e1" text-anchor="start">MeanDecreaseAccuracy</text>
<line x1="117.3" y1="322.6" x2="181" y2="322.6" stroke="#806c64" stroke-width="1.4" stroke-dasharray="5.8,5.9"/>
<line x1="115" y1="322.6" x2="116.8" y2="322.6" stroke="#b9aaa2" stroke-width="1.2"/>
<line x1="117.3" y1="335.23" x2="181" y2="335.23" stroke="#806c64" stroke-width="1.4" stroke-dasharray="5.8,5.9"/>
<line x1="115" y1="335.23" x2="116.8" y2="335.23" stroke="#b9aaa2" stroke-width="1.2"/>
<line x1="117.3" y1="347.86" x2="181" y2="347.86" stroke="#806c64" stroke-width="1.4" stroke-dasharray="5.8,5.9"/>
<line x1="115" y1="347.86" x2="116.8" y2="347.86" stroke="#b9aaa2" stroke-width="1.2"/>
<line x1="117.3" y1="360.49" x2="181" y2="360.49" stroke="#806c64" stroke-width="1.4" stroke-dasharray="5.8,5.9"/>
<line x1="115" y1="360.49" x2="116.8" y2="360.49" stroke="#b9aaa2" stroke-width="1.2"/>
<line x1="117.3" y1="373.12" x2="181" y2="373.12" stroke="#806c64" stroke-width="1.4" stroke-dasharray="5.8,5.9"/>
<line x1="115" y1="373.12" x2="116.8" y2="373.12" stroke="#b9aaa2" stroke-width="1.2"/>
<line x1="117.3" y1="385.75" x2="181" y2="385.75" stroke="#806c64" stroke-width="1.4" stroke-dasharray="5.8,5.9"/>
<line x1="115" y1="385.75" x2="116.8" y2="385.75" stroke="#b9aaa2" stroke-width="1.2"/>
<line x1="117.3" y1="398.38" x2="181" y2="398.38" stroke="#806c64" stroke-width="1.4" stroke-dasharray="5.8,5.9"/>
<line x1="115" y1="398.38" x2="116.8" y2="398.38" stroke="#b9aaa2" stroke-width="1.2"/>
<line x1="117.3" y1="411.01" x2="181" y2="411.01" stroke="#806c64" stroke-width="1.4" stroke-dasharray="5.8,5.9"/>
<line x1="115" y1="411.01" x2="116.8" y2="411.01" stroke="#b9aaa2" stroke-width="1.2"/>
<line x1="117.3" y1="423.64" x2="181" y2="423.64" stroke="#806c64" stroke-width="1.4" stroke-dasharray="5.8,5.9"/>
<line x1="115" y1="423.64" x2="116.8" y2="423.64" stroke="#b9aaa2" stroke-width="1.2"/>
<line x1="117.3" y1="436.27" x2="181" y2="436.27" stroke="#806c64" stroke-width="1.4" stroke-dasharray="5.8,5.9"/>
<line x1="115" y1="436.27" x2="116.8" y2="436.27" stroke="#b9aaa2" stroke-width="1.2"/>
<line x1="117.3" y1="448.9" x2="181" y2="448.9" stroke="#806c64" stroke-width="1.4" stroke-dasharray="5.8,5.9"/>
<line x1="115" y1="448.9" x2="116.8" y2="448.9" stroke="#b9aaa2" stroke-width="1.2"/>
<line x1="117.3" y1="461.53" x2="181" y2="461.53" stroke="#806c64" stroke-width="1.4" stroke-dasharray="5.8,5.9"/>
<line x1="115" y1="461.53" x2="116.8" y2="461.53" stroke="#b9aaa2" stroke-width="1.2"/>
<line x1="117.3" y1="474.16" x2="181" y2="474.16" stroke="#806c64" stroke-width="1.4" stroke-dasharray="5.8,5.9"/>
<line x1="115" y1="474.16" x2="116.8" y2="474.16" stroke="#b9aaa2" stroke-width="1.2"/>
<line x1="117.3" y1="486.79" x2="181" y2="486.79" stroke="#806c64" stroke-width="1.4" stroke-dasharray="5.8,5.9"/>
<line x1="115" y1="486.79" x2="116.8" y2="486.79" stroke="#b9aaa2" stroke-width="1.2"/>
<line x1="117.3" y1="499.42" x2="181" y2="499.42" stroke="#806c64" stroke-width="1.4" stroke-dasharray="5.8,5.9"/>
<line x1="115" y1="499.42" x2="116.8" y2="499.42" stroke="#b9aaa2" stroke-width="1.2"/>
<line x1="117.3" y1="512.05" x2="181" y2="512.05" stroke="#806c64" stroke-width="1.4" stroke-dasharray="5.8,5.9"/>
<line x1="115" y1="512.05" x2="116.8" y2="512.05" stroke="#b9aaa2" stroke-width="1.2"/>
<line x1="117.3" y1="524.68" x2="181" y2="524.68" stroke="#806c64" stroke-width="1.4" stroke-dasharray="5.8,5.9"/>
<line x1="115" y1="524.68" x2="116.8" y2="524.68" stroke="#b9aaa2" stroke-width="1.2"/>
<line x1="117.3" y1="537.31" x2="181" y2="537.31" stroke="#806c64" stroke-width="1.4" stroke-dasharray="5.8,5.9"/>
<line x1="115" y1="537.31" x2="116.8" y2="537.31" stroke="#b9aaa2" stroke-width="1.2"/>
<circle cx="179" cy="322.6" r="2" fill="#16d9ec"/>
<text x="184.1" y="326.49" font-size="11.1" fill="#1fcfd8" text-anchor="start">ASV1015 (<tspan font-style="italic">Clostridium_sensu_stricto</tspan>)</text>
<circle cx="171.1" cy="335.23" r="2" fill="#16d9ec"/>
<text x="184.1" y="339.12" font-size="11.1" fill="#1fcfd8" text-anchor="start">ASV105 (<tspan font-style="italic">Oscillibacter</tspan>)</text>
<circle cx="166.4" cy="347.86" r="2" fill="#16d9ec"/>
<text x="184.1" y="351.75" font-size="11.1" fill="#1fcfd8" text-anchor="start">ASV1120 ([<tspan font-style="italic">Eubacterium</tspan>]<tspan font-style="italic">_fissicatena</tspan>)</text>
<circle cx="162.4" cy="360.49" r="2" fill="#16d9ec"/>
<text x="184.1" y="364.38" font-size="11.1" fill="#1fcfd8" text-anchor="start">ASV77 (<tspan font-style="italic">Christensenellaceae</tspan>_R−7)</text>
<circle cx="154.1" cy="373.12" r="2" fill="#16d9ec"/>
<text x="184.1" y="377" font-size="11.1" fill="#1fcfd8" text-anchor="start">ASV19 (<tspan font-style="italic">Lachnospira</tspan>)</text>
<circle cx="153.4" cy="385.75" r="2" fill="#16d9ec"/>
<text x="184.1" y="389.63" font-size="11.1" fill="#e9e1e1" text-anchor="start">ASV10 (<tspan font-style="italic">Bacteroides</tspan>)</text>
<circle cx="152.2" cy="398.38" r="2" fill="#16d9ec"/>
<text x="184.1" y="402.26" font-size="11.1" fill="#1fcfd8" text-anchor="start">ASV215 (<tspan font-style="italic">Lachnospiraceae</tspan>_unclassified)</text>
<circle cx="151.8" cy="411.01" r="2" fill="#16d9ec"/>
<text x="184.1" y="414.9" font-size="11.1" fill="#e9e1e1" text-anchor="start">ASV517 (<tspan font-style="italic">Streptococcus</tspan>)</text>
<circle cx="151.8" cy="423.64" r="2" fill="#16d9ec"/>
<text x="184.1" y="427.53" font-size="11.1" fill="#1fcfd8" text-anchor="start">ASV203 (<tspan font-style="italic">Veillonella</tspan>)</text>
<circle cx="145.5" cy="436.27" r="2" fill="#16d9ec"/>
<text x="184.1" y="440.16" font-size="11.1" fill="#1fcfd8" text-anchor="start">ASV28 (<tspan font-style="italic">Oscillospiraceae</tspan>_UCG−002)</text>
<circle cx="145.5" cy="448.9" r="2" fill="#16d9ec"/>
<text x="184.1" y="452.79" font-size="11.1" fill="#e9e1e1" text-anchor="start">ASV904 (<tspan font-style="italic">Desulfovibrio</tspan>)</text>
<circle cx="137.6" cy="461.53" r="2" fill="#16d9ec"/>
<text x="184.1" y="465.42" font-size="11.1" fill="#e9e1e1" text-anchor="start">ASV139 (<tspan font-style="italic">Prevotella</tspan>)</text>
<circle cx="133.7" cy="474.16" r="2" fill="#16d9ec"/>
<text x="184.1" y="478.05" font-size="11.1" fill="#e9e1e1" text-anchor="start">ASV1518 (<tspan font-style="italic">Actinomyces</tspan>)</text>
<circle cx="131.7" cy="486.79" r="2" fill="#16d9ec"/>
<text x="184.1" y="490.68" font-size="11.1" fill="#1fcfd8" text-anchor="start">ASV370 (<tspan font-style="italic">Ruminococcaceae</tspan>_uncultured)</text>
<circle cx="128.5" cy="499.42" r="2" fill="#16d9ec"/>
<text x="184.1" y="503.31" font-size="11.1" fill="#e9e1e1" text-anchor="start">ASV192 (<tspan font-style="italic">Bacteroides</tspan>)</text>
<circle cx="127.7" cy="512.05" r="2" fill="#16d9ec"/>
<text x="184.1" y="515.94" font-size="11.1" fill="#1fcfd8" text-anchor="start">ASV1205 (<tspan font-style="italic">Megasphaera</tspan>)</text>
<circle cx="126.6" cy="524.68" r="2" fill="#16d9ec"/>
<text x="184.1" y="528.57" font-size="11.1" fill="#e9e1e1" text-anchor="start">ASV34 (<tspan font-style="italic">Klebsiella</tspan>)</text>
<circle cx="118.7" cy="537.31" r="2" fill="#16d9ec"/>
<text x="184.1" y="541.2" font-size="11.1" fill="#e9e1e1" text-anchor="start">ASV18 (<tspan font-style="italic">Prevotella</tspan>)</text>
<rect x="116.8" y="313.7" width="64.2" height="229.9" fill="none" stroke="#b9aaa2" stroke-width="1.2"/>
<line x1="118.2" y1="543.6" x2="118.2" y2="545.8" stroke="#b9aaa2" stroke-width="1"/>
<line x1="137.6" y1="543.6" x2="137.6" y2="545.8" stroke="#b9aaa2" stroke-width="1"/>
<line x1="158" y1="543.6" x2="158" y2="545.8" stroke="#b9aaa2" stroke-width="1"/>
<line x1="179" y1="543.6" x2="179" y2="545.8" stroke="#b9aaa2" stroke-width="1"/>
<text x="118.2" y="555.5" font-size="9.7" fill="#e9e1e1" text-anchor="middle">0</text>
<text x="137.6" y="555.5" font-size="9.7" fill="#e9e1e1" text-anchor="middle">5</text>
<text x="158" y="555.5" font-size="9.7" fill="#e9e1e1" text-anchor="middle">10</text>
<text x="179" y="555.5" font-size="9.7" fill="#e9e1e1" text-anchor="middle">15</text>
<text x="116.2" y="567.79" font-size="9.7" fill="#e9e1e1" text-anchor="start">MeanDecreaseAccuracy</text>
<line x1="111.7" y1="621.8" x2="172.9" y2="621.8" stroke="#806c64" stroke-width="1.4" stroke-dasharray="5.8,5.9"/>
<line x1="109.4" y1="621.8" x2="111.2" y2="621.8" stroke="#b9aaa2" stroke-width="1.2"/>
<line x1="111.7" y1="637.87" x2="172.9" y2="637.87" stroke="#806c64" stroke-width="1.4" stroke-dasharray="5.8,5.9"/>
<line x1="109.4" y1="637.87" x2="111.2" y2="637.87" stroke="#b9aaa2" stroke-width="1.2"/>
<line x1="111.7" y1="653.94" x2="172.9" y2="653.94" stroke="#806c64" stroke-width="1.4" stroke-dasharray="5.8,5.9"/>
<line x1="109.4" y1="653.94" x2="111.2" y2="653.94" stroke="#b9aaa2" stroke-width="1.2"/>
<line x1="111.7" y1="670.01" x2="172.9" y2="670.01" stroke="#806c64" stroke-width="1.4" stroke-dasharray="5.8,5.9"/>
<line x1="109.4" y1="670.01" x2="111.2" y2="670.01" stroke="#b9aaa2" stroke-width="1.2"/>
<line x1="111.7" y1="686.08" x2="172.9" y2="686.08" stroke="#806c64" stroke-width="1.4" stroke-dasharray="5.8,5.9"/>
<line x1="109.4" y1="686.08" x2="111.2" y2="686.08" stroke="#b9aaa2" stroke-width="1.2"/>
<line x1="111.7" y1="702.15" x2="172.9" y2="702.15" stroke="#806c64" stroke-width="1.4" stroke-dasharray="5.8,5.9"/>
<line x1="109.4" y1="702.15" x2="111.2" y2="702.15" stroke="#b9aaa2" stroke-width="1.2"/>
<line x1="111.7" y1="718.22" x2="172.9" y2="718.22" stroke="#806c64" stroke-width="1.4" stroke-dasharray="5.8,5.9"/>
<line x1="109.4" y1="718.22" x2="111.2" y2="718.22" stroke="#b9aaa2" stroke-width="1.2"/>
<line x1="111.7" y1="734.29" x2="172.9" y2="734.29" stroke="#806c64" stroke-width="1.4" stroke-dasharray="5.8,5.9"/>
<line x1="109.4" y1="734.29" x2="111.2" y2="734.29" stroke="#b9aaa2" stroke-width="1.2"/>
<line x1="111.7" y1="750.36" x2="172.9" y2="750.36" stroke="#806c64" stroke-width="1.4" stroke-dasharray="5.8,5.9"/>
<line x1="109.4" y1="750.36" x2="111.2" y2="750.36" stroke="#b9aaa2" stroke-width="1.2"/>
<line x1="111.7" y1="766.43" x2="172.9" y2="766.43" stroke="#806c64" stroke-width="1.4" stroke-dasharray="5.8,5.9"/>
<line x1="109.4" y1="766.43" x2="111.2" y2="766.43" stroke="#b9aaa2" stroke-width="1.2"/>
<line x1="111.7" y1="782.5" x2="172.9" y2="782.5" stroke="#806c64" stroke-width="1.4" stroke-dasharray="5.8,5.9"/>
<line x1="109.4" y1="782.5" x2="111.2" y2="782.5" stroke="#b9aaa2" stroke-width="1.2"/>
<line x1="111.7" y1="798.57" x2="172.9" y2="798.57" stroke="#806c64" stroke-width="1.4" stroke-dasharray="5.8,5.9"/>
<line x1="109.4" y1="798.57" x2="111.2" y2="798.57" stroke="#b9aaa2" stroke-width="1.2"/>
<line x1="111.7" y1="814.64" x2="172.9" y2="814.64" stroke="#806c64" stroke-width="1.4" stroke-dasharray="5.8,5.9"/>
<line x1="109.4" y1="814.64" x2="111.2" y2="814.64" stroke="#b9aaa2" stroke-width="1.2"/>
<circle cx="171" cy="621.8" r="2" fill="#16d9ec"/>
<text x="174.7" y="625.68" font-size="11.1" fill="#1fcfd8" text-anchor="start">ASV1015 (<tspan font-style="italic">Clostridium_sensu_stricto</tspan>)</text>
<circle cx="150.5" cy="637.87" r="2" fill="#16d9ec"/>
<text x="174.7" y="641.75" font-size="11.1" fill="#e9e1e1" text-anchor="start">ASV495 (<tspan font-style="italic">Bacteroides</tspan>)</text>
<circle cx="145" cy="653.94" r="2" fill="#16d9ec"/>
<text x="174.7" y="657.82" font-size="11.1" fill="#e9e1e1" text-anchor="start">ASV14 (<tspan font-style="italic">Bacteroides</tspan>)</text>
<circle cx="142.6" cy="670.01" r="2" fill="#16d9ec"/>
<text x="174.7" y="673.89" font-size="11.1" fill="#1fcfd8" text-anchor="start">ASV19 (<tspan font-style="italic">Lachnospira</tspan>)</text>
<circle cx="137.4" cy="686.08" r="2" fill="#16d9ec"/>
<text x="174.7" y="689.96" font-size="11.1" fill="#1fcfd8" text-anchor="start">ASV147 (<tspan font-style="italic">Lachnospiraceae</tspan>_unclassified)</text>
<circle cx="136.7" cy="702.15" r="2" fill="#16d9ec"/>
<text x="174.7" y="706.03" font-size="11.1" fill="#e9e1e1" text-anchor="start">ASV1986 (<tspan font-style="italic">Desulfovibrionaceae</tspan>_uncultured)</text>
<circle cx="135.5" cy="718.22" r="2" fill="#16d9ec"/>
<text x="174.7" y="722.1" font-size="11.1" fill="#1fcfd8" text-anchor="start">ASV293 (<tspan font-style="italic">Clostridium_sensu_stricto</tspan>)</text>
<circle cx="130.7" cy="734.29" r="2" fill="#16d9ec"/>
<text x="174.7" y="738.17" font-size="11.1" fill="#e9e1e1" text-anchor="start">ASV129 (<tspan font-style="italic">Prevotella</tspan>)</text>
<circle cx="128.8" cy="750.36" r="2" fill="#16d9ec"/>
<text x="174.7" y="754.24" font-size="11.1" fill="#1fcfd8" text-anchor="start">ASV614 (<tspan font-style="italic">Lachnoclostridium</tspan>)</text>
<circle cx="128.8" cy="766.43" r="2" fill="#16d9ec"/>
<text x="174.7" y="770.31" font-size="11.1" fill="#e9e1e1" text-anchor="start">ASV24 (<tspan font-style="italic">Dialister</tspan>)</text>
<circle cx="126.4" cy="782.5" r="2" fill="#16d9ec"/>
<text x="174.7" y="786.38" font-size="11.1" fill="#e9e1e1" text-anchor="start">ASV811 (<tspan font-style="italic">Bacteroides</tspan>)</text>
<circle cx="118.9" cy="798.57" r="2" fill="#16d9ec"/>
<text x="174.7" y="802.45" font-size="11.1" fill="#1fcfd8" text-anchor="start">ASV429 ([<tspan font-style="italic">Eubacterium</tspan>]<tspan font-style="italic">_siraeum</tspan>)</text>
<circle cx="114.7" cy="814.64" r="2" fill="#16d9ec"/>
<text x="174.7" y="818.52" font-size="11.1" fill="#e9e1e1" text-anchor="start">ASV9 (<tspan font-style="italic">Megamonas</tspan>)</text>
<rect x="111.2" y="612.7" width="61.7" height="211.3" fill="none" stroke="#b9aaa2" stroke-width="1.2"/>
<line x1="112.1" y1="824" x2="112.1" y2="826.2" stroke="#b9aaa2" stroke-width="1"/>
<line x1="124.3" y1="824" x2="124.3" y2="826.2" stroke="#b9aaa2" stroke-width="1"/>
<line x1="136.5" y1="824" x2="136.5" y2="826.2" stroke="#b9aaa2" stroke-width="1"/>
<line x1="148.6" y1="824" x2="148.6" y2="826.2" stroke="#b9aaa2" stroke-width="1"/>
<line x1="160.8" y1="824" x2="160.8" y2="826.2" stroke="#b9aaa2" stroke-width="1"/>
<line x1="172.3" y1="824" x2="172.3" y2="826.2" stroke="#b9aaa2" stroke-width="1"/>
<text x="112.1" y="833.89" font-size="9.7" fill="#e9e1e1" text-anchor="middle">4</text>
<text x="124.3" y="833.89" font-size="9.7" fill="#e9e1e1" text-anchor="middle">6</text>
<text x="136.5" y="833.89" font-size="9.7" fill="#e9e1e1" text-anchor="middle">8</text>
<text x="148.6" y="833.89" font-size="9.7" fill="#e9e1e1" text-anchor="middle">10</text>
<text x="160.8" y="833.89" font-size="9.7" fill="#e9e1e1" text-anchor="middle">12</text>
<text x="172.3" y="833.89" font-size="9.7" fill="#e9e1e1" text-anchor="middle">14</text>
<text x="111.2" y="845.19" font-size="9.7" fill="#e9e1e1" text-anchor="start">MeanDecreaseAccuracy</text>
<rect x="276.1" y="842.4" width="10.7" height="7.2" fill="#20eeee"/>
<text x="289.8" y="849.85" font-size="11" fill="#e9e1e1" text-anchor="start">The train cohort</text>
<rect x="276.1" y="854.9" width="10.7" height="7.2" fill="#c8782c"/>
<text x="289.8" y="862.35" font-size="11" fill="#e9e1e1" text-anchor="start">The validation cohort</text>
<rect x="276.1" y="867.8" width="10.7" height="7.2" fill="#b21ce0"/>
<text x="289.8" y="875.25" font-size="11" fill="#e9e1e1" text-anchor="start">The independent cohort</text>
</svg>
</body></html>
